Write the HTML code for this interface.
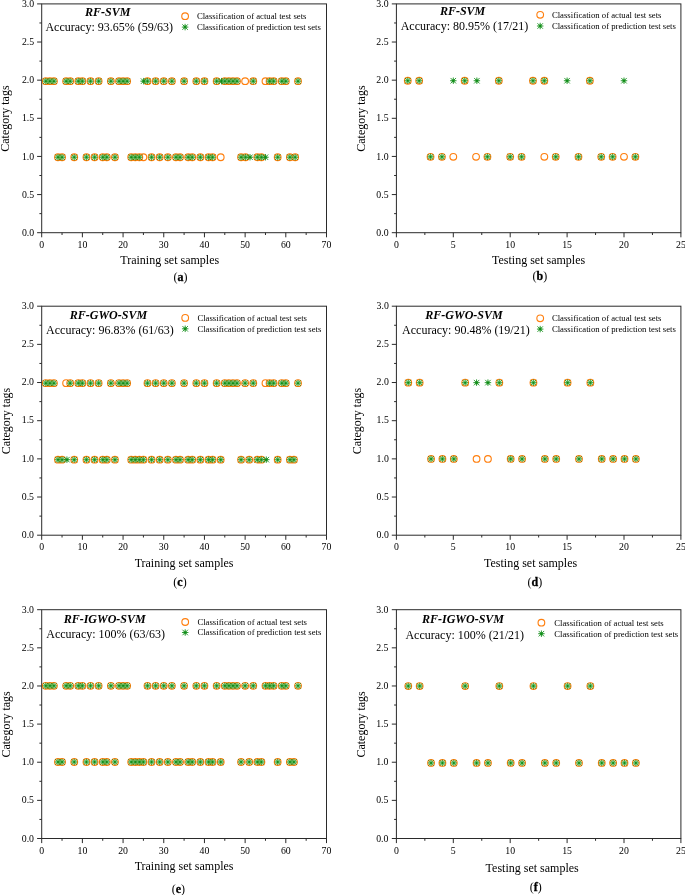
<!DOCTYPE html>
<html><head><meta charset="utf-8"><title>Classification results</title>
<style>
html,body{margin:0;padding:0;background:#fff;}
svg{display:block;will-change:transform;font-variant-ligatures:none;font-family:"Liberation Serif",serif;fill:#000}
.ax{stroke:#2a2a2a;stroke-width:1.0;fill:none;stroke-linecap:butt}
.o{stroke:#ff7f0e;stroke-width:1.12;fill:none}
.g{stroke:#108c18;stroke-width:0.85;fill:none}
.gd{fill:#108c18;stroke:none}
.gh{fill:#5fbd63;fill-opacity:.66;stroke:none}
.tk{font-size:9.8px}
.lb{font-size:12px}
.tt{font-size:12px;font-weight:bold;font-style:italic}
.lg{font-size:8.7px}
.cp{font-size:12px}
</style></head><body>
<svg width="685" height="895" viewBox="0 0 685 895">
<rect width="685" height="895" fill="#fff"/>

<g>
<rect class="ax" x="41.7" y="3.9" width="284.80" height="228.80"/>
<path class="ax" d="M41.70 232.7v4.6M62.04 232.7v2.3M82.39 232.7v4.6M102.73 232.7v2.3M123.07 232.7v4.6M143.41 232.7v2.3M163.76 232.7v4.6M184.10 232.7v2.3M204.44 232.7v4.6M224.79 232.7v2.3M245.13 232.7v4.6M265.47 232.7v2.3M285.81 232.7v4.6M306.16 232.7v2.3M326.50 232.7v4.6M41.7 232.70h-4.6M41.7 213.63h-2.3M41.7 194.57h-4.6M41.7 175.50h-2.3M41.7 156.43h-4.6M41.7 137.37h-2.3M41.7 118.30h-4.6M41.7 99.23h-2.3M41.7 80.17h-4.6M41.7 61.10h-2.3M41.7 42.03h-4.6M41.7 22.97h-2.3M41.7 3.90h-4.6"/>
<g class="tk" text-anchor="middle"><text x="41.70" y="248.2">0</text><text x="82.39" y="248.2">10</text><text x="123.07" y="248.2">20</text><text x="163.76" y="248.2">30</text><text x="204.44" y="248.2">40</text><text x="245.13" y="248.2">50</text><text x="285.81" y="248.2">60</text><text x="326.50" y="248.2">70</text></g>
<g class="tk" text-anchor="end"><text x="34.2" y="235.80">0.0</text><text x="34.2" y="197.67">0.5</text><text x="34.2" y="159.53">1.0</text><text x="34.2" y="121.40">1.5</text><text x="34.2" y="83.27">2.0</text><text x="34.2" y="45.13">2.5</text><text x="34.2" y="7.00">3.0</text></g>
<text class="lb" text-anchor="middle" x="169.75" y="263.5">Training set samples</text>
<text class="lb" text-anchor="middle" transform="translate(8.8 118.60) rotate(-90)">Category tags</text>
<text class="tt" text-anchor="middle" x="107.65" y="15.7">RF-SVM</text>
<text class="lb" text-anchor="middle" x="109.25" y="30.7">Accuracy: 93.65% (59/63)</text>
<text class="cp" text-anchor="middle" x="180.4" y="281.3">(<tspan font-weight="bold" stroke="#000" stroke-width="0.3">a</tspan>)</text>
<g class="o"><circle cx="185.10" cy="16.20" r="3.35"/></g><g class="g"><circle cx="185.10" cy="27.10" r="2.0" class="gh"/><path d="M181.85 27.10H188.35M185.10 23.85V30.35M182.35 24.35L187.85 29.85M182.35 29.85L187.85 24.35"/><circle cx="185.10" cy="27.10" r="1.0" class="gd"/></g>
<text class="lg" x="196.9" y="19.10">Classification of actual test sets</text>
<text class="lg" x="196.9" y="30.00">Classification of prediction test sets</text>
<g class="o"><circle cx="45.77" cy="81.17" r="3.35"/><circle cx="49.84" cy="81.17" r="3.35"/><circle cx="53.91" cy="81.17" r="3.35"/><circle cx="66.11" cy="81.17" r="3.35"/><circle cx="70.18" cy="81.17" r="3.35"/><circle cx="78.32" cy="81.17" r="3.35"/><circle cx="82.39" cy="81.17" r="3.35"/><circle cx="90.52" cy="81.17" r="3.35"/><circle cx="98.66" cy="81.17" r="3.35"/><circle cx="110.87" cy="81.17" r="3.35"/><circle cx="119.00" cy="81.17" r="3.35"/><circle cx="123.07" cy="81.17" r="3.35"/><circle cx="127.14" cy="81.17" r="3.35"/><circle cx="147.48" cy="81.17" r="3.35"/><circle cx="155.62" cy="81.17" r="3.35"/><circle cx="163.76" cy="81.17" r="3.35"/><circle cx="171.89" cy="81.17" r="3.35"/><circle cx="184.10" cy="81.17" r="3.35"/><circle cx="196.31" cy="81.17" r="3.35"/><circle cx="204.44" cy="81.17" r="3.35"/><circle cx="216.65" cy="81.17" r="3.35"/><circle cx="224.79" cy="81.17" r="3.35"/><circle cx="228.85" cy="81.17" r="3.35"/><circle cx="232.92" cy="81.17" r="3.35"/><circle cx="236.99" cy="81.17" r="3.35"/><circle cx="245.13" cy="81.17" r="3.35"/><circle cx="253.27" cy="81.17" r="3.35"/><circle cx="265.47" cy="81.17" r="3.35"/><circle cx="269.54" cy="81.17" r="3.35"/><circle cx="273.61" cy="81.17" r="3.35"/><circle cx="281.75" cy="81.17" r="3.35"/><circle cx="285.81" cy="81.17" r="3.35"/><circle cx="298.02" cy="81.17" r="3.35"/><circle cx="57.97" cy="157.23" r="3.35"/><circle cx="62.04" cy="157.23" r="3.35"/><circle cx="74.25" cy="157.23" r="3.35"/><circle cx="86.45" cy="157.23" r="3.35"/><circle cx="94.59" cy="157.23" r="3.35"/><circle cx="102.73" cy="157.23" r="3.35"/><circle cx="106.80" cy="157.23" r="3.35"/><circle cx="114.93" cy="157.23" r="3.35"/><circle cx="131.21" cy="157.23" r="3.35"/><circle cx="135.28" cy="157.23" r="3.35"/><circle cx="139.35" cy="157.23" r="3.35"/><circle cx="143.41" cy="157.23" r="3.35"/><circle cx="151.55" cy="157.23" r="3.35"/><circle cx="159.69" cy="157.23" r="3.35"/><circle cx="167.83" cy="157.23" r="3.35"/><circle cx="175.96" cy="157.23" r="3.35"/><circle cx="180.03" cy="157.23" r="3.35"/><circle cx="188.17" cy="157.23" r="3.35"/><circle cx="192.24" cy="157.23" r="3.35"/><circle cx="200.37" cy="157.23" r="3.35"/><circle cx="208.51" cy="157.23" r="3.35"/><circle cx="212.58" cy="157.23" r="3.35"/><circle cx="220.72" cy="157.23" r="3.35"/><circle cx="241.06" cy="157.23" r="3.35"/><circle cx="245.54" cy="157.23" r="3.35"/><circle cx="257.33" cy="157.23" r="3.35"/><circle cx="261.40" cy="157.23" r="3.35"/><circle cx="277.68" cy="157.23" r="3.35"/><circle cx="289.88" cy="157.23" r="3.35"/><circle cx="295.17" cy="157.23" r="3.35"/></g>
<g class="g"><path d="M42.52 81.17H49.02M45.77 77.92V84.42M43.02 78.42L48.52 83.92M43.02 83.92L48.52 78.42"/><circle cx="45.77" cy="81.17" r="2.45" class="gh"/><circle cx="45.77" cy="81.17" r="1.0" class="gd"/><path d="M46.59 81.17H53.09M49.84 77.92V84.42M47.09 78.42L52.59 83.92M47.09 83.92L52.59 78.42"/><circle cx="49.84" cy="81.17" r="2.45" class="gh"/><circle cx="49.84" cy="81.17" r="1.0" class="gd"/><path d="M50.66 81.17H57.16M53.91 77.92V84.42M51.16 78.42L56.66 83.92M51.16 83.92L56.66 78.42"/><circle cx="53.91" cy="81.17" r="2.45" class="gh"/><circle cx="53.91" cy="81.17" r="1.0" class="gd"/><path d="M62.86 81.17H69.36M66.11 77.92V84.42M63.36 78.42L68.86 83.92M63.36 83.92L68.86 78.42"/><circle cx="66.11" cy="81.17" r="2.45" class="gh"/><circle cx="66.11" cy="81.17" r="1.0" class="gd"/><path d="M66.93 81.17H73.43M70.18 77.92V84.42M67.43 78.42L72.93 83.92M67.43 83.92L72.93 78.42"/><circle cx="70.18" cy="81.17" r="2.45" class="gh"/><circle cx="70.18" cy="81.17" r="1.0" class="gd"/><path d="M75.07 81.17H81.57M78.32 77.92V84.42M75.57 78.42L81.07 83.92M75.57 83.92L81.07 78.42"/><circle cx="78.32" cy="81.17" r="2.45" class="gh"/><circle cx="78.32" cy="81.17" r="1.0" class="gd"/><path d="M79.14 81.17H85.64M82.39 77.92V84.42M79.64 78.42L85.14 83.92M79.64 83.92L85.14 78.42"/><circle cx="82.39" cy="81.17" r="2.45" class="gh"/><circle cx="82.39" cy="81.17" r="1.0" class="gd"/><path d="M87.27 81.17H93.77M90.52 77.92V84.42M87.77 78.42L93.27 83.92M87.77 83.92L93.27 78.42"/><circle cx="90.52" cy="81.17" r="2.45" class="gh"/><circle cx="90.52" cy="81.17" r="1.0" class="gd"/><path d="M95.41 81.17H101.91M98.66 77.92V84.42M95.91 78.42L101.41 83.92M95.91 83.92L101.41 78.42"/><circle cx="98.66" cy="81.17" r="2.45" class="gh"/><circle cx="98.66" cy="81.17" r="1.0" class="gd"/><path d="M107.62 81.17H114.12M110.87 77.92V84.42M108.12 78.42L113.62 83.92M108.12 83.92L113.62 78.42"/><circle cx="110.87" cy="81.17" r="2.45" class="gh"/><circle cx="110.87" cy="81.17" r="1.0" class="gd"/><path d="M115.75 81.17H122.25M119.00 77.92V84.42M116.25 78.42L121.75 83.92M116.25 83.92L121.75 78.42"/><circle cx="119.00" cy="81.17" r="2.45" class="gh"/><circle cx="119.00" cy="81.17" r="1.0" class="gd"/><path d="M119.82 81.17H126.32M123.07 77.92V84.42M120.32 78.42L125.82 83.92M120.32 83.92L125.82 78.42"/><circle cx="123.07" cy="81.17" r="2.45" class="gh"/><circle cx="123.07" cy="81.17" r="1.0" class="gd"/><path d="M123.89 81.17H130.39M127.14 77.92V84.42M124.39 78.42L129.89 83.92M124.39 83.92L129.89 78.42"/><circle cx="127.14" cy="81.17" r="2.45" class="gh"/><circle cx="127.14" cy="81.17" r="1.0" class="gd"/><circle cx="143.62" cy="81.17" r="2.0" class="gh"/><path d="M140.37 81.17H146.87M143.62 77.92V84.42M140.87 78.42L146.37 83.92M140.87 83.92L146.37 78.42"/><circle cx="143.62" cy="81.17" r="1.0" class="gd"/><path d="M144.23 81.17H150.73M147.48 77.92V84.42M144.73 78.42L150.23 83.92M144.73 83.92L150.23 78.42"/><circle cx="147.48" cy="81.17" r="2.45" class="gh"/><circle cx="147.48" cy="81.17" r="1.0" class="gd"/><path d="M152.37 81.17H158.87M155.62 77.92V84.42M152.87 78.42L158.37 83.92M152.87 83.92L158.37 78.42"/><circle cx="155.62" cy="81.17" r="2.45" class="gh"/><circle cx="155.62" cy="81.17" r="1.0" class="gd"/><path d="M160.51 81.17H167.01M163.76 77.92V84.42M161.01 78.42L166.51 83.92M161.01 83.92L166.51 78.42"/><circle cx="163.76" cy="81.17" r="2.45" class="gh"/><circle cx="163.76" cy="81.17" r="1.0" class="gd"/><path d="M168.64 81.17H175.14M171.89 77.92V84.42M169.14 78.42L174.64 83.92M169.14 83.92L174.64 78.42"/><circle cx="171.89" cy="81.17" r="2.45" class="gh"/><circle cx="171.89" cy="81.17" r="1.0" class="gd"/><path d="M180.85 81.17H187.35M184.10 77.92V84.42M181.35 78.42L186.85 83.92M181.35 83.92L186.85 78.42"/><circle cx="184.10" cy="81.17" r="2.45" class="gh"/><circle cx="184.10" cy="81.17" r="1.0" class="gd"/><path d="M193.06 81.17H199.56M196.31 77.92V84.42M193.56 78.42L199.06 83.92M193.56 83.92L199.06 78.42"/><circle cx="196.31" cy="81.17" r="2.45" class="gh"/><circle cx="196.31" cy="81.17" r="1.0" class="gd"/><path d="M201.19 81.17H207.69M204.44 77.92V84.42M201.69 78.42L207.19 83.92M201.69 83.92L207.19 78.42"/><circle cx="204.44" cy="81.17" r="2.45" class="gh"/><circle cx="204.44" cy="81.17" r="1.0" class="gd"/><path d="M213.40 81.17H219.90M216.65 77.92V84.42M213.90 78.42L219.40 83.92M213.90 83.92L219.40 78.42"/><circle cx="216.65" cy="81.17" r="2.45" class="gh"/><circle cx="216.65" cy="81.17" r="1.0" class="gd"/><circle cx="221.53" cy="81.17" r="2.0" class="gh"/><path d="M218.28 81.17H224.78M221.53 77.92V84.42M218.78 78.42L224.28 83.92M218.78 83.92L224.28 78.42"/><circle cx="221.53" cy="81.17" r="1.0" class="gd"/><path d="M221.54 81.17H228.04M224.79 77.92V84.42M222.04 78.42L227.54 83.92M222.04 83.92L227.54 78.42"/><circle cx="224.79" cy="81.17" r="2.45" class="gh"/><circle cx="224.79" cy="81.17" r="1.0" class="gd"/><path d="M225.60 81.17H232.10M228.85 77.92V84.42M226.10 78.42L231.60 83.92M226.10 83.92L231.60 78.42"/><circle cx="228.85" cy="81.17" r="2.45" class="gh"/><circle cx="228.85" cy="81.17" r="1.0" class="gd"/><path d="M229.67 81.17H236.17M232.92 77.92V84.42M230.17 78.42L235.67 83.92M230.17 83.92L235.67 78.42"/><circle cx="232.92" cy="81.17" r="2.45" class="gh"/><circle cx="232.92" cy="81.17" r="1.0" class="gd"/><path d="M233.74 81.17H240.24M236.99 77.92V84.42M234.24 78.42L239.74 83.92M234.24 83.92L239.74 78.42"/><circle cx="236.99" cy="81.17" r="2.45" class="gh"/><circle cx="236.99" cy="81.17" r="1.0" class="gd"/><path d="M250.02 81.17H256.52M253.27 77.92V84.42M250.52 78.42L256.02 83.92M250.52 83.92L256.02 78.42"/><circle cx="253.27" cy="81.17" r="2.45" class="gh"/><circle cx="253.27" cy="81.17" r="1.0" class="gd"/><path d="M266.29 81.17H272.79M269.54 77.92V84.42M266.79 78.42L272.29 83.92M266.79 83.92L272.29 78.42"/><circle cx="269.54" cy="81.17" r="2.45" class="gh"/><circle cx="269.54" cy="81.17" r="1.0" class="gd"/><path d="M270.36 81.17H276.86M273.61 77.92V84.42M270.86 78.42L276.36 83.92M270.86 83.92L276.36 78.42"/><circle cx="273.61" cy="81.17" r="2.45" class="gh"/><circle cx="273.61" cy="81.17" r="1.0" class="gd"/><path d="M278.50 81.17H285.00M281.75 77.92V84.42M279.00 78.42L284.50 83.92M279.00 83.92L284.50 78.42"/><circle cx="281.75" cy="81.17" r="2.45" class="gh"/><circle cx="281.75" cy="81.17" r="1.0" class="gd"/><path d="M282.56 81.17H289.06M285.81 77.92V84.42M283.06 78.42L288.56 83.92M283.06 83.92L288.56 78.42"/><circle cx="285.81" cy="81.17" r="2.45" class="gh"/><circle cx="285.81" cy="81.17" r="1.0" class="gd"/><path d="M294.77 81.17H301.27M298.02 77.92V84.42M295.27 78.42L300.77 83.92M295.27 83.92L300.77 78.42"/><circle cx="298.02" cy="81.17" r="2.45" class="gh"/><circle cx="298.02" cy="81.17" r="1.0" class="gd"/><path d="M54.72 157.23H61.22M57.97 153.98V160.48M55.22 154.48L60.72 159.98M55.22 159.98L60.72 154.48"/><circle cx="57.97" cy="157.23" r="2.45" class="gh"/><circle cx="57.97" cy="157.23" r="1.0" class="gd"/><path d="M58.79 157.23H65.29M62.04 153.98V160.48M59.29 154.48L64.79 159.98M59.29 159.98L64.79 154.48"/><circle cx="62.04" cy="157.23" r="2.45" class="gh"/><circle cx="62.04" cy="157.23" r="1.0" class="gd"/><path d="M71.00 157.23H77.50M74.25 153.98V160.48M71.50 154.48L77.00 159.98M71.50 159.98L77.00 154.48"/><circle cx="74.25" cy="157.23" r="2.45" class="gh"/><circle cx="74.25" cy="157.23" r="1.0" class="gd"/><path d="M83.20 157.23H89.70M86.45 153.98V160.48M83.70 154.48L89.20 159.98M83.70 159.98L89.20 154.48"/><circle cx="86.45" cy="157.23" r="2.45" class="gh"/><circle cx="86.45" cy="157.23" r="1.0" class="gd"/><path d="M91.34 157.23H97.84M94.59 153.98V160.48M91.84 154.48L97.34 159.98M91.84 159.98L97.34 154.48"/><circle cx="94.59" cy="157.23" r="2.45" class="gh"/><circle cx="94.59" cy="157.23" r="1.0" class="gd"/><path d="M99.48 157.23H105.98M102.73 153.98V160.48M99.98 154.48L105.48 159.98M99.98 159.98L105.48 154.48"/><circle cx="102.73" cy="157.23" r="2.45" class="gh"/><circle cx="102.73" cy="157.23" r="1.0" class="gd"/><path d="M103.55 157.23H110.05M106.80 153.98V160.48M104.05 154.48L109.55 159.98M104.05 159.98L109.55 154.48"/><circle cx="106.80" cy="157.23" r="2.45" class="gh"/><circle cx="106.80" cy="157.23" r="1.0" class="gd"/><path d="M111.68 157.23H118.18M114.93 153.98V160.48M112.18 154.48L117.68 159.98M112.18 159.98L117.68 154.48"/><circle cx="114.93" cy="157.23" r="2.45" class="gh"/><circle cx="114.93" cy="157.23" r="1.0" class="gd"/><path d="M127.96 157.23H134.46M131.21 153.98V160.48M128.46 154.48L133.96 159.98M128.46 159.98L133.96 154.48"/><circle cx="131.21" cy="157.23" r="2.45" class="gh"/><circle cx="131.21" cy="157.23" r="1.0" class="gd"/><path d="M132.03 157.23H138.53M135.28 153.98V160.48M132.53 154.48L138.03 159.98M132.53 159.98L138.03 154.48"/><circle cx="135.28" cy="157.23" r="2.45" class="gh"/><circle cx="135.28" cy="157.23" r="1.0" class="gd"/><path d="M136.10 157.23H142.60M139.35 153.98V160.48M136.60 154.48L142.10 159.98M136.60 159.98L142.10 154.48"/><circle cx="139.35" cy="157.23" r="2.45" class="gh"/><circle cx="139.35" cy="157.23" r="1.0" class="gd"/><path d="M148.30 157.23H154.80M151.55 153.98V160.48M148.80 154.48L154.30 159.98M148.80 159.98L154.30 154.48"/><circle cx="151.55" cy="157.23" r="2.45" class="gh"/><circle cx="151.55" cy="157.23" r="1.0" class="gd"/><path d="M156.44 157.23H162.94M159.69 153.98V160.48M156.94 154.48L162.44 159.98M156.94 159.98L162.44 154.48"/><circle cx="159.69" cy="157.23" r="2.45" class="gh"/><circle cx="159.69" cy="157.23" r="1.0" class="gd"/><path d="M164.58 157.23H171.08M167.83 153.98V160.48M165.08 154.48L170.58 159.98M165.08 159.98L170.58 154.48"/><circle cx="167.83" cy="157.23" r="2.45" class="gh"/><circle cx="167.83" cy="157.23" r="1.0" class="gd"/><path d="M172.71 157.23H179.21M175.96 153.98V160.48M173.21 154.48L178.71 159.98M173.21 159.98L178.71 154.48"/><circle cx="175.96" cy="157.23" r="2.45" class="gh"/><circle cx="175.96" cy="157.23" r="1.0" class="gd"/><path d="M176.78 157.23H183.28M180.03 153.98V160.48M177.28 154.48L182.78 159.98M177.28 159.98L182.78 154.48"/><circle cx="180.03" cy="157.23" r="2.45" class="gh"/><circle cx="180.03" cy="157.23" r="1.0" class="gd"/><path d="M184.92 157.23H191.42M188.17 153.98V160.48M185.42 154.48L190.92 159.98M185.42 159.98L190.92 154.48"/><circle cx="188.17" cy="157.23" r="2.45" class="gh"/><circle cx="188.17" cy="157.23" r="1.0" class="gd"/><path d="M188.99 157.23H195.49M192.24 153.98V160.48M189.49 154.48L194.99 159.98M189.49 159.98L194.99 154.48"/><circle cx="192.24" cy="157.23" r="2.45" class="gh"/><circle cx="192.24" cy="157.23" r="1.0" class="gd"/><path d="M197.12 157.23H203.62M200.37 153.98V160.48M197.62 154.48L203.12 159.98M197.62 159.98L203.12 154.48"/><circle cx="200.37" cy="157.23" r="2.45" class="gh"/><circle cx="200.37" cy="157.23" r="1.0" class="gd"/><path d="M205.26 157.23H211.76M208.51 153.98V160.48M205.76 154.48L211.26 159.98M205.76 159.98L211.26 154.48"/><circle cx="208.51" cy="157.23" r="2.45" class="gh"/><circle cx="208.51" cy="157.23" r="1.0" class="gd"/><path d="M209.33 157.23H215.83M212.58 153.98V160.48M209.83 154.48L215.33 159.98M209.83 159.98L215.33 154.48"/><circle cx="212.58" cy="157.23" r="2.45" class="gh"/><circle cx="212.58" cy="157.23" r="1.0" class="gd"/><path d="M237.81 157.23H244.31M241.06 153.98V160.48M238.31 154.48L243.81 159.98M238.31 159.98L243.81 154.48"/><circle cx="241.06" cy="157.23" r="2.45" class="gh"/><circle cx="241.06" cy="157.23" r="1.0" class="gd"/><path d="M242.29 157.23H248.79M245.54 153.98V160.48M242.79 154.48L248.29 159.98M242.79 159.98L248.29 154.48"/><circle cx="245.54" cy="157.23" r="2.45" class="gh"/><circle cx="245.54" cy="157.23" r="1.0" class="gd"/><circle cx="250.01" cy="157.23" r="2.0" class="gh"/><path d="M246.76 157.23H253.26M250.01 153.98V160.48M247.26 154.48L252.76 159.98M247.26 159.98L252.76 154.48"/><circle cx="250.01" cy="157.23" r="1.0" class="gd"/><path d="M254.08 157.23H260.58M257.33 153.98V160.48M254.58 154.48L260.08 159.98M254.58 159.98L260.08 154.48"/><circle cx="257.33" cy="157.23" r="2.45" class="gh"/><circle cx="257.33" cy="157.23" r="1.0" class="gd"/><path d="M258.15 157.23H264.65M261.40 153.98V160.48M258.65 154.48L264.15 159.98M258.65 159.98L264.15 154.48"/><circle cx="261.40" cy="157.23" r="2.45" class="gh"/><circle cx="261.40" cy="157.23" r="1.0" class="gd"/><circle cx="265.47" cy="157.23" r="2.0" class="gh"/><path d="M262.22 157.23H268.72M265.47 153.98V160.48M262.72 154.48L268.22 159.98M262.72 159.98L268.22 154.48"/><circle cx="265.47" cy="157.23" r="1.0" class="gd"/><path d="M274.43 157.23H280.93M277.68 153.98V160.48M274.93 154.48L280.43 159.98M274.93 159.98L280.43 154.48"/><circle cx="277.68" cy="157.23" r="2.45" class="gh"/><circle cx="277.68" cy="157.23" r="1.0" class="gd"/><path d="M286.63 157.23H293.13M289.88 153.98V160.48M287.13 154.48L292.63 159.98M287.13 159.98L292.63 154.48"/><circle cx="289.88" cy="157.23" r="2.45" class="gh"/><circle cx="289.88" cy="157.23" r="1.0" class="gd"/><path d="M291.92 157.23H298.42M295.17 153.98V160.48M292.42 154.48L297.92 159.98M292.42 159.98L297.92 154.48"/><circle cx="295.17" cy="157.23" r="2.45" class="gh"/><circle cx="295.17" cy="157.23" r="1.0" class="gd"/></g>
</g>

<g>
<rect class="ax" x="396.4" y="3.9" width="284.50" height="228.80"/>
<path class="ax" d="M396.40 232.7v4.6M424.85 232.7v2.3M453.30 232.7v4.6M481.75 232.7v2.3M510.20 232.7v4.6M538.65 232.7v2.3M567.10 232.7v4.6M595.55 232.7v2.3M624.00 232.7v4.6M652.45 232.7v2.3M680.90 232.7v4.6M396.4 232.70h-4.6M396.4 213.63h-2.3M396.4 194.57h-4.6M396.4 175.50h-2.3M396.4 156.43h-4.6M396.4 137.37h-2.3M396.4 118.30h-4.6M396.4 99.23h-2.3M396.4 80.17h-4.6M396.4 61.10h-2.3M396.4 42.03h-4.6M396.4 22.97h-2.3M396.4 3.90h-4.6"/>
<g class="tk" text-anchor="middle"><text x="396.40" y="248.1">0</text><text x="453.30" y="248.1">5</text><text x="510.20" y="248.1">10</text><text x="567.10" y="248.1">15</text><text x="624.00" y="248.1">20</text><text x="680.90" y="248.1">25</text></g>
<g class="tk" text-anchor="end"><text x="388.6" y="235.80">0.0</text><text x="388.6" y="197.67">0.5</text><text x="388.6" y="159.53">1.0</text><text x="388.6" y="121.40">1.5</text><text x="388.6" y="83.27">2.0</text><text x="388.6" y="45.13">2.5</text><text x="388.6" y="7.00">3.0</text></g>
<text class="lb" text-anchor="middle" x="538.6" y="263.9">Testing set samples</text>
<text class="lb" text-anchor="middle" transform="translate(364.5 118.60) rotate(-90)">Category tags</text>
<text class="tt" text-anchor="middle" x="462.6" y="14.7">RF-SVM</text>
<text class="lb" text-anchor="middle" x="464.5" y="29.6">Accuracy: 80.95% (17/21)</text>
<text class="cp" text-anchor="middle" x="539.9" y="280.3">(<tspan font-weight="bold" stroke="#000" stroke-width="0.3">b</tspan>)</text>
<g class="o"><circle cx="540.20" cy="14.80" r="3.35"/></g><g class="g"><circle cx="540.20" cy="26.00" r="2.0" class="gh"/><path d="M536.95 26.00H543.45M540.20 22.75V29.25M537.45 23.25L542.95 28.75M537.45 28.75L542.95 23.25"/><circle cx="540.20" cy="26.00" r="1.0" class="gd"/></g>
<text class="lg" x="551.9" y="17.70">Classification of actual test sets</text>
<text class="lg" x="551.9" y="28.90">Classification of prediction test sets</text>
<g class="o"><circle cx="407.78" cy="80.72" r="3.35"/><circle cx="419.16" cy="80.72" r="3.35"/><circle cx="464.68" cy="80.72" r="3.35"/><circle cx="498.82" cy="80.72" r="3.35"/><circle cx="532.96" cy="80.72" r="3.35"/><circle cx="544.34" cy="80.72" r="3.35"/><circle cx="589.86" cy="80.72" r="3.35"/><circle cx="430.54" cy="156.83" r="3.35"/><circle cx="441.92" cy="156.83" r="3.35"/><circle cx="453.30" cy="156.83" r="3.35"/><circle cx="476.06" cy="156.83" r="3.35"/><circle cx="487.44" cy="156.83" r="3.35"/><circle cx="510.20" cy="156.83" r="3.35"/><circle cx="521.58" cy="156.83" r="3.35"/><circle cx="544.34" cy="156.83" r="3.35"/><circle cx="555.72" cy="156.83" r="3.35"/><circle cx="578.48" cy="156.83" r="3.35"/><circle cx="601.24" cy="156.83" r="3.35"/><circle cx="612.62" cy="156.83" r="3.35"/><circle cx="624.00" cy="156.83" r="3.35"/><circle cx="635.38" cy="156.83" r="3.35"/></g>
<g class="g"><path d="M404.53 80.72H411.03M407.78 77.47V83.97M405.03 77.97L410.53 83.47M405.03 83.47L410.53 77.97"/><circle cx="407.78" cy="80.72" r="2.45" class="gh"/><circle cx="407.78" cy="80.72" r="1.0" class="gd"/><path d="M415.91 80.72H422.41M419.16 77.47V83.97M416.41 77.97L421.91 83.47M416.41 83.47L421.91 77.97"/><circle cx="419.16" cy="80.72" r="2.45" class="gh"/><circle cx="419.16" cy="80.72" r="1.0" class="gd"/><circle cx="453.30" cy="80.72" r="2.0" class="gh"/><path d="M450.05 80.72H456.55M453.30 77.47V83.97M450.55 77.97L456.05 83.47M450.55 83.47L456.05 77.97"/><circle cx="453.30" cy="80.72" r="1.0" class="gd"/><path d="M461.43 80.72H467.93M464.68 77.47V83.97M461.93 77.97L467.43 83.47M461.93 83.47L467.43 77.97"/><circle cx="464.68" cy="80.72" r="2.45" class="gh"/><circle cx="464.68" cy="80.72" r="1.0" class="gd"/><circle cx="476.86" cy="80.72" r="2.0" class="gh"/><path d="M473.61 80.72H480.11M476.86 77.47V83.97M474.11 77.97L479.61 83.47M474.11 83.47L479.61 77.97"/><circle cx="476.86" cy="80.72" r="1.0" class="gd"/><path d="M495.57 80.72H502.07M498.82 77.47V83.97M496.07 77.97L501.57 83.47M496.07 83.47L501.57 77.97"/><circle cx="498.82" cy="80.72" r="2.45" class="gh"/><circle cx="498.82" cy="80.72" r="1.0" class="gd"/><path d="M529.71 80.72H536.21M532.96 77.47V83.97M530.21 77.97L535.71 83.47M530.21 83.47L535.71 77.97"/><circle cx="532.96" cy="80.72" r="2.45" class="gh"/><circle cx="532.96" cy="80.72" r="1.0" class="gd"/><path d="M541.09 80.72H547.59M544.34 77.47V83.97M541.59 77.97L547.09 83.47M541.59 83.47L547.09 77.97"/><circle cx="544.34" cy="80.72" r="2.45" class="gh"/><circle cx="544.34" cy="80.72" r="1.0" class="gd"/><circle cx="567.10" cy="80.72" r="2.0" class="gh"/><path d="M563.85 80.72H570.35M567.10 77.47V83.97M564.35 77.97L569.85 83.47M564.35 83.47L569.85 77.97"/><circle cx="567.10" cy="80.72" r="1.0" class="gd"/><path d="M586.61 80.72H593.11M589.86 77.47V83.97M587.11 77.97L592.61 83.47M587.11 83.47L592.61 77.97"/><circle cx="589.86" cy="80.72" r="2.45" class="gh"/><circle cx="589.86" cy="80.72" r="1.0" class="gd"/><circle cx="624.00" cy="80.72" r="2.0" class="gh"/><path d="M620.75 80.72H627.25M624.00 77.47V83.97M621.25 77.97L626.75 83.47M621.25 83.47L626.75 77.97"/><circle cx="624.00" cy="80.72" r="1.0" class="gd"/><path d="M427.29 156.83H433.79M430.54 153.58V160.08M427.79 154.08L433.29 159.58M427.79 159.58L433.29 154.08"/><circle cx="430.54" cy="156.83" r="2.45" class="gh"/><circle cx="430.54" cy="156.83" r="1.0" class="gd"/><path d="M438.67 156.83H445.17M441.92 153.58V160.08M439.17 154.08L444.67 159.58M439.17 159.58L444.67 154.08"/><circle cx="441.92" cy="156.83" r="2.45" class="gh"/><circle cx="441.92" cy="156.83" r="1.0" class="gd"/><path d="M484.19 156.83H490.69M487.44 153.58V160.08M484.69 154.08L490.19 159.58M484.69 159.58L490.19 154.08"/><circle cx="487.44" cy="156.83" r="2.45" class="gh"/><circle cx="487.44" cy="156.83" r="1.0" class="gd"/><path d="M506.95 156.83H513.45M510.20 153.58V160.08M507.45 154.08L512.95 159.58M507.45 159.58L512.95 154.08"/><circle cx="510.20" cy="156.83" r="2.45" class="gh"/><circle cx="510.20" cy="156.83" r="1.0" class="gd"/><path d="M518.33 156.83H524.83M521.58 153.58V160.08M518.83 154.08L524.33 159.58M518.83 159.58L524.33 154.08"/><circle cx="521.58" cy="156.83" r="2.45" class="gh"/><circle cx="521.58" cy="156.83" r="1.0" class="gd"/><path d="M552.47 156.83H558.97M555.72 153.58V160.08M552.97 154.08L558.47 159.58M552.97 159.58L558.47 154.08"/><circle cx="555.72" cy="156.83" r="2.45" class="gh"/><circle cx="555.72" cy="156.83" r="1.0" class="gd"/><path d="M575.23 156.83H581.73M578.48 153.58V160.08M575.73 154.08L581.23 159.58M575.73 159.58L581.23 154.08"/><circle cx="578.48" cy="156.83" r="2.45" class="gh"/><circle cx="578.48" cy="156.83" r="1.0" class="gd"/><path d="M597.99 156.83H604.49M601.24 153.58V160.08M598.49 154.08L603.99 159.58M598.49 159.58L603.99 154.08"/><circle cx="601.24" cy="156.83" r="2.45" class="gh"/><circle cx="601.24" cy="156.83" r="1.0" class="gd"/><path d="M609.37 156.83H615.87M612.62 153.58V160.08M609.87 154.08L615.37 159.58M609.87 159.58L615.37 154.08"/><circle cx="612.62" cy="156.83" r="2.45" class="gh"/><circle cx="612.62" cy="156.83" r="1.0" class="gd"/><path d="M632.13 156.83H638.63M635.38 153.58V160.08M632.63 154.08L638.13 159.58M632.63 159.58L638.13 154.08"/><circle cx="635.38" cy="156.83" r="2.45" class="gh"/><circle cx="635.38" cy="156.83" r="1.0" class="gd"/></g>
</g>

<g>
<rect class="ax" x="41.7" y="306.2" width="284.80" height="229.00"/>
<path class="ax" d="M41.70 535.2v4.6M62.04 535.2v2.3M82.39 535.2v4.6M102.73 535.2v2.3M123.07 535.2v4.6M143.41 535.2v2.3M163.76 535.2v4.6M184.10 535.2v2.3M204.44 535.2v4.6M224.79 535.2v2.3M245.13 535.2v4.6M265.47 535.2v2.3M285.81 535.2v4.6M306.16 535.2v2.3M326.50 535.2v4.6M41.7 535.20h-4.6M41.7 516.12h-2.3M41.7 497.03h-4.6M41.7 477.95h-2.3M41.7 458.87h-4.6M41.7 439.78h-2.3M41.7 420.70h-4.6M41.7 401.62h-2.3M41.7 382.53h-4.6M41.7 363.45h-2.3M41.7 344.37h-4.6M41.7 325.28h-2.3M41.7 306.20h-4.6"/>
<g class="tk" text-anchor="middle"><text x="41.70" y="550.0">0</text><text x="82.39" y="550.0">10</text><text x="123.07" y="550.0">20</text><text x="163.76" y="550.0">30</text><text x="204.44" y="550.0">40</text><text x="245.13" y="550.0">50</text><text x="285.81" y="550.0">60</text><text x="326.50" y="550.0">70</text></g>
<g class="tk" text-anchor="end"><text x="34.0" y="537.90">0.0</text><text x="34.0" y="499.73">0.5</text><text x="34.0" y="461.57">1.0</text><text x="34.0" y="423.40">1.5</text><text x="34.0" y="385.23">2.0</text><text x="34.0" y="347.07">2.5</text><text x="34.0" y="308.90">3.0</text></g>
<text class="lb" text-anchor="middle" x="184.1" y="566.9">Training set samples</text>
<text class="lb" text-anchor="middle" transform="translate(10.1 421.00) rotate(-90)">Category tags</text>
<text class="tt" text-anchor="middle" x="108.4" y="318.8">RF-GWO-SVM</text>
<text class="lb" text-anchor="middle" x="109.9" y="334.1">Accuracy: 96.83% (61/63)</text>
<text class="cp" text-anchor="middle" x="180.0" y="586.1">(<tspan font-weight="bold" stroke="#000" stroke-width="0.3">c</tspan>)</text>
<g class="o"><circle cx="185.20" cy="317.90" r="3.35"/></g><g class="g"><circle cx="185.20" cy="328.80" r="2.0" class="gh"/><path d="M181.95 328.80H188.45M185.20 325.55V332.05M182.45 326.05L187.95 331.55M182.45 331.55L187.95 326.05"/><circle cx="185.20" cy="328.80" r="1.0" class="gd"/></g>
<text class="lg" x="197.4" y="320.80">Classification of actual test sets</text>
<text class="lg" x="197.4" y="331.70">Classification of prediction test sets</text>
<g class="o"><circle cx="45.77" cy="383.13" r="3.35"/><circle cx="49.84" cy="383.13" r="3.35"/><circle cx="53.91" cy="383.13" r="3.35"/><circle cx="66.11" cy="383.13" r="3.35"/><circle cx="70.18" cy="383.13" r="3.35"/><circle cx="78.32" cy="383.13" r="3.35"/><circle cx="82.39" cy="383.13" r="3.35"/><circle cx="90.52" cy="383.13" r="3.35"/><circle cx="98.66" cy="383.13" r="3.35"/><circle cx="110.87" cy="383.13" r="3.35"/><circle cx="119.00" cy="383.13" r="3.35"/><circle cx="123.07" cy="383.13" r="3.35"/><circle cx="127.14" cy="383.13" r="3.35"/><circle cx="147.48" cy="383.13" r="3.35"/><circle cx="155.62" cy="383.13" r="3.35"/><circle cx="163.76" cy="383.13" r="3.35"/><circle cx="171.89" cy="383.13" r="3.35"/><circle cx="184.10" cy="383.13" r="3.35"/><circle cx="196.31" cy="383.13" r="3.35"/><circle cx="204.44" cy="383.13" r="3.35"/><circle cx="216.65" cy="383.13" r="3.35"/><circle cx="224.79" cy="383.13" r="3.35"/><circle cx="228.85" cy="383.13" r="3.35"/><circle cx="232.92" cy="383.13" r="3.35"/><circle cx="236.99" cy="383.13" r="3.35"/><circle cx="245.13" cy="383.13" r="3.35"/><circle cx="253.27" cy="383.13" r="3.35"/><circle cx="265.47" cy="383.13" r="3.35"/><circle cx="269.54" cy="383.13" r="3.35"/><circle cx="273.61" cy="383.13" r="3.35"/><circle cx="281.75" cy="383.13" r="3.35"/><circle cx="285.81" cy="383.13" r="3.35"/><circle cx="298.02" cy="383.13" r="3.35"/><circle cx="57.97" cy="459.67" r="3.35"/><circle cx="62.04" cy="459.67" r="3.35"/><circle cx="74.25" cy="459.67" r="3.35"/><circle cx="86.45" cy="459.67" r="3.35"/><circle cx="94.59" cy="459.67" r="3.35"/><circle cx="102.73" cy="459.67" r="3.35"/><circle cx="106.80" cy="459.67" r="3.35"/><circle cx="114.93" cy="459.67" r="3.35"/><circle cx="131.21" cy="459.67" r="3.35"/><circle cx="135.28" cy="459.67" r="3.35"/><circle cx="139.35" cy="459.67" r="3.35"/><circle cx="143.41" cy="459.67" r="3.35"/><circle cx="151.55" cy="459.67" r="3.35"/><circle cx="159.69" cy="459.67" r="3.35"/><circle cx="167.83" cy="459.67" r="3.35"/><circle cx="175.96" cy="459.67" r="3.35"/><circle cx="180.03" cy="459.67" r="3.35"/><circle cx="188.17" cy="459.67" r="3.35"/><circle cx="192.24" cy="459.67" r="3.35"/><circle cx="200.37" cy="459.67" r="3.35"/><circle cx="208.51" cy="459.67" r="3.35"/><circle cx="212.58" cy="459.67" r="3.35"/><circle cx="220.72" cy="459.67" r="3.35"/><circle cx="241.06" cy="459.67" r="3.35"/><circle cx="249.20" cy="459.67" r="3.35"/><circle cx="257.33" cy="459.67" r="3.35"/><circle cx="261.40" cy="459.67" r="3.35"/><circle cx="277.68" cy="459.67" r="3.35"/><circle cx="289.88" cy="459.67" r="3.35"/><circle cx="293.95" cy="459.67" r="3.35"/></g>
<g class="g"><path d="M42.52 383.13H49.02M45.77 379.88V386.38M43.02 380.38L48.52 385.88M43.02 385.88L48.52 380.38"/><circle cx="45.77" cy="383.13" r="2.45" class="gh"/><circle cx="45.77" cy="383.13" r="1.0" class="gd"/><path d="M46.59 383.13H53.09M49.84 379.88V386.38M47.09 380.38L52.59 385.88M47.09 385.88L52.59 380.38"/><circle cx="49.84" cy="383.13" r="2.45" class="gh"/><circle cx="49.84" cy="383.13" r="1.0" class="gd"/><path d="M50.66 383.13H57.16M53.91 379.88V386.38M51.16 380.38L56.66 385.88M51.16 385.88L56.66 380.38"/><circle cx="53.91" cy="383.13" r="2.45" class="gh"/><circle cx="53.91" cy="383.13" r="1.0" class="gd"/><path d="M66.93 383.13H73.43M70.18 379.88V386.38M67.43 380.38L72.93 385.88M67.43 385.88L72.93 380.38"/><circle cx="70.18" cy="383.13" r="2.45" class="gh"/><circle cx="70.18" cy="383.13" r="1.0" class="gd"/><path d="M75.07 383.13H81.57M78.32 379.88V386.38M75.57 380.38L81.07 385.88M75.57 385.88L81.07 380.38"/><circle cx="78.32" cy="383.13" r="2.45" class="gh"/><circle cx="78.32" cy="383.13" r="1.0" class="gd"/><path d="M79.14 383.13H85.64M82.39 379.88V386.38M79.64 380.38L85.14 385.88M79.64 385.88L85.14 380.38"/><circle cx="82.39" cy="383.13" r="2.45" class="gh"/><circle cx="82.39" cy="383.13" r="1.0" class="gd"/><path d="M87.27 383.13H93.77M90.52 379.88V386.38M87.77 380.38L93.27 385.88M87.77 385.88L93.27 380.38"/><circle cx="90.52" cy="383.13" r="2.45" class="gh"/><circle cx="90.52" cy="383.13" r="1.0" class="gd"/><path d="M95.41 383.13H101.91M98.66 379.88V386.38M95.91 380.38L101.41 385.88M95.91 385.88L101.41 380.38"/><circle cx="98.66" cy="383.13" r="2.45" class="gh"/><circle cx="98.66" cy="383.13" r="1.0" class="gd"/><path d="M107.62 383.13H114.12M110.87 379.88V386.38M108.12 380.38L113.62 385.88M108.12 385.88L113.62 380.38"/><circle cx="110.87" cy="383.13" r="2.45" class="gh"/><circle cx="110.87" cy="383.13" r="1.0" class="gd"/><path d="M115.75 383.13H122.25M119.00 379.88V386.38M116.25 380.38L121.75 385.88M116.25 385.88L121.75 380.38"/><circle cx="119.00" cy="383.13" r="2.45" class="gh"/><circle cx="119.00" cy="383.13" r="1.0" class="gd"/><path d="M119.82 383.13H126.32M123.07 379.88V386.38M120.32 380.38L125.82 385.88M120.32 385.88L125.82 380.38"/><circle cx="123.07" cy="383.13" r="2.45" class="gh"/><circle cx="123.07" cy="383.13" r="1.0" class="gd"/><path d="M123.89 383.13H130.39M127.14 379.88V386.38M124.39 380.38L129.89 385.88M124.39 385.88L129.89 380.38"/><circle cx="127.14" cy="383.13" r="2.45" class="gh"/><circle cx="127.14" cy="383.13" r="1.0" class="gd"/><path d="M144.23 383.13H150.73M147.48 379.88V386.38M144.73 380.38L150.23 385.88M144.73 385.88L150.23 380.38"/><circle cx="147.48" cy="383.13" r="2.45" class="gh"/><circle cx="147.48" cy="383.13" r="1.0" class="gd"/><path d="M152.37 383.13H158.87M155.62 379.88V386.38M152.87 380.38L158.37 385.88M152.87 385.88L158.37 380.38"/><circle cx="155.62" cy="383.13" r="2.45" class="gh"/><circle cx="155.62" cy="383.13" r="1.0" class="gd"/><path d="M160.51 383.13H167.01M163.76 379.88V386.38M161.01 380.38L166.51 385.88M161.01 385.88L166.51 380.38"/><circle cx="163.76" cy="383.13" r="2.45" class="gh"/><circle cx="163.76" cy="383.13" r="1.0" class="gd"/><path d="M168.64 383.13H175.14M171.89 379.88V386.38M169.14 380.38L174.64 385.88M169.14 385.88L174.64 380.38"/><circle cx="171.89" cy="383.13" r="2.45" class="gh"/><circle cx="171.89" cy="383.13" r="1.0" class="gd"/><path d="M180.85 383.13H187.35M184.10 379.88V386.38M181.35 380.38L186.85 385.88M181.35 385.88L186.85 380.38"/><circle cx="184.10" cy="383.13" r="2.45" class="gh"/><circle cx="184.10" cy="383.13" r="1.0" class="gd"/><path d="M193.06 383.13H199.56M196.31 379.88V386.38M193.56 380.38L199.06 385.88M193.56 385.88L199.06 380.38"/><circle cx="196.31" cy="383.13" r="2.45" class="gh"/><circle cx="196.31" cy="383.13" r="1.0" class="gd"/><path d="M201.19 383.13H207.69M204.44 379.88V386.38M201.69 380.38L207.19 385.88M201.69 385.88L207.19 380.38"/><circle cx="204.44" cy="383.13" r="2.45" class="gh"/><circle cx="204.44" cy="383.13" r="1.0" class="gd"/><path d="M213.40 383.13H219.90M216.65 379.88V386.38M213.90 380.38L219.40 385.88M213.90 385.88L219.40 380.38"/><circle cx="216.65" cy="383.13" r="2.45" class="gh"/><circle cx="216.65" cy="383.13" r="1.0" class="gd"/><path d="M221.54 383.13H228.04M224.79 379.88V386.38M222.04 380.38L227.54 385.88M222.04 385.88L227.54 380.38"/><circle cx="224.79" cy="383.13" r="2.45" class="gh"/><circle cx="224.79" cy="383.13" r="1.0" class="gd"/><path d="M225.60 383.13H232.10M228.85 379.88V386.38M226.10 380.38L231.60 385.88M226.10 385.88L231.60 380.38"/><circle cx="228.85" cy="383.13" r="2.45" class="gh"/><circle cx="228.85" cy="383.13" r="1.0" class="gd"/><path d="M229.67 383.13H236.17M232.92 379.88V386.38M230.17 380.38L235.67 385.88M230.17 385.88L235.67 380.38"/><circle cx="232.92" cy="383.13" r="2.45" class="gh"/><circle cx="232.92" cy="383.13" r="1.0" class="gd"/><path d="M233.74 383.13H240.24M236.99 379.88V386.38M234.24 380.38L239.74 385.88M234.24 385.88L239.74 380.38"/><circle cx="236.99" cy="383.13" r="2.45" class="gh"/><circle cx="236.99" cy="383.13" r="1.0" class="gd"/><path d="M241.88 383.13H248.38M245.13 379.88V386.38M242.38 380.38L247.88 385.88M242.38 385.88L247.88 380.38"/><circle cx="245.13" cy="383.13" r="2.45" class="gh"/><circle cx="245.13" cy="383.13" r="1.0" class="gd"/><path d="M250.02 383.13H256.52M253.27 379.88V386.38M250.52 380.38L256.02 385.88M250.52 385.88L256.02 380.38"/><circle cx="253.27" cy="383.13" r="2.45" class="gh"/><circle cx="253.27" cy="383.13" r="1.0" class="gd"/><path d="M266.29 383.13H272.79M269.54 379.88V386.38M266.79 380.38L272.29 385.88M266.79 385.88L272.29 380.38"/><circle cx="269.54" cy="383.13" r="2.45" class="gh"/><circle cx="269.54" cy="383.13" r="1.0" class="gd"/><path d="M270.36 383.13H276.86M273.61 379.88V386.38M270.86 380.38L276.36 385.88M270.86 385.88L276.36 380.38"/><circle cx="273.61" cy="383.13" r="2.45" class="gh"/><circle cx="273.61" cy="383.13" r="1.0" class="gd"/><path d="M278.50 383.13H285.00M281.75 379.88V386.38M279.00 380.38L284.50 385.88M279.00 385.88L284.50 380.38"/><circle cx="281.75" cy="383.13" r="2.45" class="gh"/><circle cx="281.75" cy="383.13" r="1.0" class="gd"/><path d="M282.56 383.13H289.06M285.81 379.88V386.38M283.06 380.38L288.56 385.88M283.06 385.88L288.56 380.38"/><circle cx="285.81" cy="383.13" r="2.45" class="gh"/><circle cx="285.81" cy="383.13" r="1.0" class="gd"/><path d="M294.77 383.13H301.27M298.02 379.88V386.38M295.27 380.38L300.77 385.88M295.27 385.88L300.77 380.38"/><circle cx="298.02" cy="383.13" r="2.45" class="gh"/><circle cx="298.02" cy="383.13" r="1.0" class="gd"/><path d="M54.72 459.67H61.22M57.97 456.42V462.92M55.22 456.92L60.72 462.42M55.22 462.42L60.72 456.92"/><circle cx="57.97" cy="459.67" r="2.45" class="gh"/><circle cx="57.97" cy="459.67" r="1.0" class="gd"/><path d="M58.79 459.67H65.29M62.04 456.42V462.92M59.29 456.92L64.79 462.42M59.29 462.42L64.79 456.92"/><circle cx="62.04" cy="459.67" r="2.45" class="gh"/><circle cx="62.04" cy="459.67" r="1.0" class="gd"/><circle cx="66.93" cy="459.67" r="2.0" class="gh"/><path d="M63.68 459.67H70.18M66.93 456.42V462.92M64.18 456.92L69.68 462.42M64.18 462.42L69.68 456.92"/><circle cx="66.93" cy="459.67" r="1.0" class="gd"/><path d="M71.00 459.67H77.50M74.25 456.42V462.92M71.50 456.92L77.00 462.42M71.50 462.42L77.00 456.92"/><circle cx="74.25" cy="459.67" r="2.45" class="gh"/><circle cx="74.25" cy="459.67" r="1.0" class="gd"/><path d="M83.20 459.67H89.70M86.45 456.42V462.92M83.70 456.92L89.20 462.42M83.70 462.42L89.20 456.92"/><circle cx="86.45" cy="459.67" r="2.45" class="gh"/><circle cx="86.45" cy="459.67" r="1.0" class="gd"/><path d="M91.34 459.67H97.84M94.59 456.42V462.92M91.84 456.92L97.34 462.42M91.84 462.42L97.34 456.92"/><circle cx="94.59" cy="459.67" r="2.45" class="gh"/><circle cx="94.59" cy="459.67" r="1.0" class="gd"/><path d="M99.48 459.67H105.98M102.73 456.42V462.92M99.98 456.92L105.48 462.42M99.98 462.42L105.48 456.92"/><circle cx="102.73" cy="459.67" r="2.45" class="gh"/><circle cx="102.73" cy="459.67" r="1.0" class="gd"/><path d="M103.55 459.67H110.05M106.80 456.42V462.92M104.05 456.92L109.55 462.42M104.05 462.42L109.55 456.92"/><circle cx="106.80" cy="459.67" r="2.45" class="gh"/><circle cx="106.80" cy="459.67" r="1.0" class="gd"/><path d="M111.68 459.67H118.18M114.93 456.42V462.92M112.18 456.92L117.68 462.42M112.18 462.42L117.68 456.92"/><circle cx="114.93" cy="459.67" r="2.45" class="gh"/><circle cx="114.93" cy="459.67" r="1.0" class="gd"/><path d="M127.96 459.67H134.46M131.21 456.42V462.92M128.46 456.92L133.96 462.42M128.46 462.42L133.96 456.92"/><circle cx="131.21" cy="459.67" r="2.45" class="gh"/><circle cx="131.21" cy="459.67" r="1.0" class="gd"/><path d="M132.03 459.67H138.53M135.28 456.42V462.92M132.53 456.92L138.03 462.42M132.53 462.42L138.03 456.92"/><circle cx="135.28" cy="459.67" r="2.45" class="gh"/><circle cx="135.28" cy="459.67" r="1.0" class="gd"/><path d="M136.10 459.67H142.60M139.35 456.42V462.92M136.60 456.92L142.10 462.42M136.60 462.42L142.10 456.92"/><circle cx="139.35" cy="459.67" r="2.45" class="gh"/><circle cx="139.35" cy="459.67" r="1.0" class="gd"/><path d="M140.16 459.67H146.66M143.41 456.42V462.92M140.66 456.92L146.16 462.42M140.66 462.42L146.16 456.92"/><circle cx="143.41" cy="459.67" r="2.45" class="gh"/><circle cx="143.41" cy="459.67" r="1.0" class="gd"/><path d="M148.30 459.67H154.80M151.55 456.42V462.92M148.80 456.92L154.30 462.42M148.80 462.42L154.30 456.92"/><circle cx="151.55" cy="459.67" r="2.45" class="gh"/><circle cx="151.55" cy="459.67" r="1.0" class="gd"/><path d="M156.44 459.67H162.94M159.69 456.42V462.92M156.94 456.92L162.44 462.42M156.94 462.42L162.44 456.92"/><circle cx="159.69" cy="459.67" r="2.45" class="gh"/><circle cx="159.69" cy="459.67" r="1.0" class="gd"/><path d="M164.58 459.67H171.08M167.83 456.42V462.92M165.08 456.92L170.58 462.42M165.08 462.42L170.58 456.92"/><circle cx="167.83" cy="459.67" r="2.45" class="gh"/><circle cx="167.83" cy="459.67" r="1.0" class="gd"/><path d="M172.71 459.67H179.21M175.96 456.42V462.92M173.21 456.92L178.71 462.42M173.21 462.42L178.71 456.92"/><circle cx="175.96" cy="459.67" r="2.45" class="gh"/><circle cx="175.96" cy="459.67" r="1.0" class="gd"/><path d="M176.78 459.67H183.28M180.03 456.42V462.92M177.28 456.92L182.78 462.42M177.28 462.42L182.78 456.92"/><circle cx="180.03" cy="459.67" r="2.45" class="gh"/><circle cx="180.03" cy="459.67" r="1.0" class="gd"/><path d="M184.92 459.67H191.42M188.17 456.42V462.92M185.42 456.92L190.92 462.42M185.42 462.42L190.92 456.92"/><circle cx="188.17" cy="459.67" r="2.45" class="gh"/><circle cx="188.17" cy="459.67" r="1.0" class="gd"/><path d="M188.99 459.67H195.49M192.24 456.42V462.92M189.49 456.92L194.99 462.42M189.49 462.42L194.99 456.92"/><circle cx="192.24" cy="459.67" r="2.45" class="gh"/><circle cx="192.24" cy="459.67" r="1.0" class="gd"/><path d="M197.12 459.67H203.62M200.37 456.42V462.92M197.62 456.92L203.12 462.42M197.62 462.42L203.12 456.92"/><circle cx="200.37" cy="459.67" r="2.45" class="gh"/><circle cx="200.37" cy="459.67" r="1.0" class="gd"/><path d="M205.26 459.67H211.76M208.51 456.42V462.92M205.76 456.92L211.26 462.42M205.76 462.42L211.26 456.92"/><circle cx="208.51" cy="459.67" r="2.45" class="gh"/><circle cx="208.51" cy="459.67" r="1.0" class="gd"/><path d="M209.33 459.67H215.83M212.58 456.42V462.92M209.83 456.92L215.33 462.42M209.83 462.42L215.33 456.92"/><circle cx="212.58" cy="459.67" r="2.45" class="gh"/><circle cx="212.58" cy="459.67" r="1.0" class="gd"/><path d="M217.47 459.67H223.97M220.72 456.42V462.92M217.97 456.92L223.47 462.42M217.97 462.42L223.47 456.92"/><circle cx="220.72" cy="459.67" r="2.45" class="gh"/><circle cx="220.72" cy="459.67" r="1.0" class="gd"/><path d="M237.81 459.67H244.31M241.06 456.42V462.92M238.31 456.92L243.81 462.42M238.31 462.42L243.81 456.92"/><circle cx="241.06" cy="459.67" r="2.45" class="gh"/><circle cx="241.06" cy="459.67" r="1.0" class="gd"/><path d="M245.95 459.67H252.45M249.20 456.42V462.92M246.45 456.92L251.95 462.42M246.45 462.42L251.95 456.92"/><circle cx="249.20" cy="459.67" r="2.45" class="gh"/><circle cx="249.20" cy="459.67" r="1.0" class="gd"/><path d="M254.08 459.67H260.58M257.33 456.42V462.92M254.58 456.92L260.08 462.42M254.58 462.42L260.08 456.92"/><circle cx="257.33" cy="459.67" r="2.45" class="gh"/><circle cx="257.33" cy="459.67" r="1.0" class="gd"/><path d="M258.15 459.67H264.65M261.40 456.42V462.92M258.65 456.92L264.15 462.42M258.65 462.42L264.15 456.92"/><circle cx="261.40" cy="459.67" r="2.45" class="gh"/><circle cx="261.40" cy="459.67" r="1.0" class="gd"/><circle cx="266.29" cy="459.67" r="2.0" class="gh"/><path d="M263.04 459.67H269.54M266.29 456.42V462.92M263.54 456.92L269.04 462.42M263.54 462.42L269.04 456.92"/><circle cx="266.29" cy="459.67" r="1.0" class="gd"/><path d="M274.43 459.67H280.93M277.68 456.42V462.92M274.93 456.92L280.43 462.42M274.93 462.42L280.43 456.92"/><circle cx="277.68" cy="459.67" r="2.45" class="gh"/><circle cx="277.68" cy="459.67" r="1.0" class="gd"/><path d="M286.63 459.67H293.13M289.88 456.42V462.92M287.13 456.92L292.63 462.42M287.13 462.42L292.63 456.92"/><circle cx="289.88" cy="459.67" r="2.45" class="gh"/><circle cx="289.88" cy="459.67" r="1.0" class="gd"/><path d="M290.70 459.67H297.20M293.95 456.42V462.92M291.20 456.92L296.70 462.42M291.20 462.42L296.70 456.92"/><circle cx="293.95" cy="459.67" r="2.45" class="gh"/><circle cx="293.95" cy="459.67" r="1.0" class="gd"/></g>
</g>

<g>
<rect class="ax" x="396.4" y="306.2" width="284.50" height="229.00"/>
<path class="ax" d="M396.40 535.2v4.6M424.85 535.2v2.3M453.30 535.2v4.6M481.75 535.2v2.3M510.20 535.2v4.6M538.65 535.2v2.3M567.10 535.2v4.6M595.55 535.2v2.3M624.00 535.2v4.6M652.45 535.2v2.3M680.90 535.2v4.6M396.4 535.20h-4.6M396.4 516.12h-2.3M396.4 497.03h-4.6M396.4 477.95h-2.3M396.4 458.87h-4.6M396.4 439.78h-2.3M396.4 420.70h-4.6M396.4 401.62h-2.3M396.4 382.53h-4.6M396.4 363.45h-2.3M396.4 344.37h-4.6M396.4 325.28h-2.3M396.4 306.20h-4.6"/>
<g class="tk" text-anchor="middle"><text x="396.40" y="549.9">0</text><text x="453.30" y="549.9">5</text><text x="510.20" y="549.9">10</text><text x="567.10" y="549.9">15</text><text x="624.00" y="549.9">20</text><text x="680.90" y="549.9">25</text></g>
<g class="tk" text-anchor="end"><text x="388.8" y="537.90">0.0</text><text x="388.8" y="499.73">0.5</text><text x="388.8" y="461.57">1.0</text><text x="388.8" y="423.40">1.5</text><text x="388.8" y="385.23">2.0</text><text x="388.8" y="347.07">2.5</text><text x="388.8" y="308.90">3.0</text></g>
<text class="lb" text-anchor="middle" x="530.6" y="566.9">Testing set samples</text>
<text class="lb" text-anchor="middle" transform="translate(360.7 421.00) rotate(-90)">Category tags</text>
<text class="tt" text-anchor="middle" x="464.0" y="318.8">RF-GWO-SVM</text>
<text class="lb" text-anchor="middle" x="465.9" y="334.1">Accuracy: 90.48% (19/21)</text>
<text class="cp" text-anchor="middle" x="534.9" y="586.1">(<tspan font-weight="bold" stroke="#000" stroke-width="0.3">d</tspan>)</text>
<g class="o"><circle cx="540.20" cy="318.30" r="3.35"/></g><g class="g"><circle cx="540.20" cy="329.10" r="2.0" class="gh"/><path d="M536.95 329.10H543.45M540.20 325.85V332.35M537.45 326.35L542.95 331.85M537.45 331.85L542.95 326.35"/><circle cx="540.20" cy="329.10" r="1.0" class="gd"/></g>
<text class="lg" x="551.9" y="321.20">Classification of actual test sets</text>
<text class="lg" x="551.9" y="332.00">Classification of prediction test sets</text>
<g class="o"><circle cx="408.28" cy="382.63" r="3.35"/><circle cx="419.66" cy="382.63" r="3.35"/><circle cx="465.18" cy="382.63" r="3.35"/><circle cx="499.32" cy="382.63" r="3.35"/><circle cx="533.46" cy="382.63" r="3.35"/><circle cx="567.60" cy="382.63" r="3.35"/><circle cx="590.36" cy="382.63" r="3.35"/><circle cx="431.04" cy="458.92" r="3.35"/><circle cx="442.42" cy="458.92" r="3.35"/><circle cx="453.80" cy="458.92" r="3.35"/><circle cx="476.56" cy="458.92" r="3.35"/><circle cx="487.94" cy="458.92" r="3.35"/><circle cx="510.70" cy="458.92" r="3.35"/><circle cx="522.08" cy="458.92" r="3.35"/><circle cx="544.84" cy="458.92" r="3.35"/><circle cx="556.22" cy="458.92" r="3.35"/><circle cx="578.98" cy="458.92" r="3.35"/><circle cx="601.74" cy="458.92" r="3.35"/><circle cx="613.12" cy="458.92" r="3.35"/><circle cx="624.50" cy="458.92" r="3.35"/><circle cx="635.88" cy="458.92" r="3.35"/></g>
<g class="g"><path d="M405.03 382.63H411.53M408.28 379.38V385.88M405.53 379.88L411.03 385.38M405.53 385.38L411.03 379.88"/><circle cx="408.28" cy="382.63" r="2.45" class="gh"/><circle cx="408.28" cy="382.63" r="1.0" class="gd"/><path d="M416.41 382.63H422.91M419.66 379.38V385.88M416.91 379.88L422.41 385.38M416.91 385.38L422.41 379.88"/><circle cx="419.66" cy="382.63" r="2.45" class="gh"/><circle cx="419.66" cy="382.63" r="1.0" class="gd"/><path d="M461.93 382.63H468.43M465.18 379.38V385.88M462.43 379.88L467.93 385.38M462.43 385.38L467.93 379.88"/><circle cx="465.18" cy="382.63" r="2.45" class="gh"/><circle cx="465.18" cy="382.63" r="1.0" class="gd"/><circle cx="476.56" cy="382.63" r="2.0" class="gh"/><path d="M473.31 382.63H479.81M476.56 379.38V385.88M473.81 379.88L479.31 385.38M473.81 385.38L479.31 379.88"/><circle cx="476.56" cy="382.63" r="1.0" class="gd"/><circle cx="487.94" cy="382.63" r="2.0" class="gh"/><path d="M484.69 382.63H491.19M487.94 379.38V385.88M485.19 379.88L490.69 385.38M485.19 385.38L490.69 379.88"/><circle cx="487.94" cy="382.63" r="1.0" class="gd"/><path d="M496.07 382.63H502.57M499.32 379.38V385.88M496.57 379.88L502.07 385.38M496.57 385.38L502.07 379.88"/><circle cx="499.32" cy="382.63" r="2.45" class="gh"/><circle cx="499.32" cy="382.63" r="1.0" class="gd"/><path d="M530.21 382.63H536.71M533.46 379.38V385.88M530.71 379.88L536.21 385.38M530.71 385.38L536.21 379.88"/><circle cx="533.46" cy="382.63" r="2.45" class="gh"/><circle cx="533.46" cy="382.63" r="1.0" class="gd"/><path d="M564.35 382.63H570.85M567.60 379.38V385.88M564.85 379.88L570.35 385.38M564.85 385.38L570.35 379.88"/><circle cx="567.60" cy="382.63" r="2.45" class="gh"/><circle cx="567.60" cy="382.63" r="1.0" class="gd"/><path d="M587.11 382.63H593.61M590.36 379.38V385.88M587.61 379.88L593.11 385.38M587.61 385.38L593.11 379.88"/><circle cx="590.36" cy="382.63" r="2.45" class="gh"/><circle cx="590.36" cy="382.63" r="1.0" class="gd"/><path d="M427.79 458.92H434.29M431.04 455.67V462.17M428.29 456.17L433.79 461.67M428.29 461.67L433.79 456.17"/><circle cx="431.04" cy="458.92" r="2.45" class="gh"/><circle cx="431.04" cy="458.92" r="1.0" class="gd"/><path d="M439.17 458.92H445.67M442.42 455.67V462.17M439.67 456.17L445.17 461.67M439.67 461.67L445.17 456.17"/><circle cx="442.42" cy="458.92" r="2.45" class="gh"/><circle cx="442.42" cy="458.92" r="1.0" class="gd"/><path d="M450.55 458.92H457.05M453.80 455.67V462.17M451.05 456.17L456.55 461.67M451.05 461.67L456.55 456.17"/><circle cx="453.80" cy="458.92" r="2.45" class="gh"/><circle cx="453.80" cy="458.92" r="1.0" class="gd"/><path d="M507.45 458.92H513.95M510.70 455.67V462.17M507.95 456.17L513.45 461.67M507.95 461.67L513.45 456.17"/><circle cx="510.70" cy="458.92" r="2.45" class="gh"/><circle cx="510.70" cy="458.92" r="1.0" class="gd"/><path d="M518.83 458.92H525.33M522.08 455.67V462.17M519.33 456.17L524.83 461.67M519.33 461.67L524.83 456.17"/><circle cx="522.08" cy="458.92" r="2.45" class="gh"/><circle cx="522.08" cy="458.92" r="1.0" class="gd"/><path d="M541.59 458.92H548.09M544.84 455.67V462.17M542.09 456.17L547.59 461.67M542.09 461.67L547.59 456.17"/><circle cx="544.84" cy="458.92" r="2.45" class="gh"/><circle cx="544.84" cy="458.92" r="1.0" class="gd"/><path d="M552.97 458.92H559.47M556.22 455.67V462.17M553.47 456.17L558.97 461.67M553.47 461.67L558.97 456.17"/><circle cx="556.22" cy="458.92" r="2.45" class="gh"/><circle cx="556.22" cy="458.92" r="1.0" class="gd"/><path d="M575.73 458.92H582.23M578.98 455.67V462.17M576.23 456.17L581.73 461.67M576.23 461.67L581.73 456.17"/><circle cx="578.98" cy="458.92" r="2.45" class="gh"/><circle cx="578.98" cy="458.92" r="1.0" class="gd"/><path d="M598.49 458.92H604.99M601.74 455.67V462.17M598.99 456.17L604.49 461.67M598.99 461.67L604.49 456.17"/><circle cx="601.74" cy="458.92" r="2.45" class="gh"/><circle cx="601.74" cy="458.92" r="1.0" class="gd"/><path d="M609.87 458.92H616.37M613.12 455.67V462.17M610.37 456.17L615.87 461.67M610.37 461.67L615.87 456.17"/><circle cx="613.12" cy="458.92" r="2.45" class="gh"/><circle cx="613.12" cy="458.92" r="1.0" class="gd"/><path d="M621.25 458.92H627.75M624.50 455.67V462.17M621.75 456.17L627.25 461.67M621.75 461.67L627.25 456.17"/><circle cx="624.50" cy="458.92" r="2.45" class="gh"/><circle cx="624.50" cy="458.92" r="1.0" class="gd"/><path d="M632.63 458.92H639.13M635.88 455.67V462.17M633.13 456.17L638.63 461.67M633.13 461.67L638.63 456.17"/><circle cx="635.88" cy="458.92" r="2.45" class="gh"/><circle cx="635.88" cy="458.92" r="1.0" class="gd"/></g>
</g>

<g>
<rect class="ax" x="41.7" y="609.7" width="284.80" height="228.80"/>
<path class="ax" d="M41.70 838.5v4.6M62.04 838.5v2.3M82.39 838.5v4.6M102.73 838.5v2.3M123.07 838.5v4.6M143.41 838.5v2.3M163.76 838.5v4.6M184.10 838.5v2.3M204.44 838.5v4.6M224.79 838.5v2.3M245.13 838.5v4.6M265.47 838.5v2.3M285.81 838.5v4.6M306.16 838.5v2.3M326.50 838.5v4.6M41.7 838.50h-4.6M41.7 819.43h-2.3M41.7 800.37h-4.6M41.7 781.30h-2.3M41.7 762.23h-4.6M41.7 743.17h-2.3M41.7 724.10h-4.6M41.7 705.03h-2.3M41.7 685.97h-4.6M41.7 666.90h-2.3M41.7 647.83h-4.6M41.7 628.77h-2.3M41.7 609.70h-4.6"/>
<g class="tk" text-anchor="middle"><text x="41.70" y="854.4">0</text><text x="82.39" y="854.4">10</text><text x="123.07" y="854.4">20</text><text x="163.76" y="854.4">30</text><text x="204.44" y="854.4">40</text><text x="245.13" y="854.4">50</text><text x="285.81" y="854.4">60</text><text x="326.50" y="854.4">70</text></g>
<g class="tk" text-anchor="end"><text x="34.0" y="841.60">0.0</text><text x="34.0" y="803.47">0.5</text><text x="34.0" y="765.33">1.0</text><text x="34.0" y="727.20">1.5</text><text x="34.0" y="689.07">2.0</text><text x="34.0" y="650.93">2.5</text><text x="34.0" y="612.80">3.0</text></g>
<text class="lb" text-anchor="middle" x="184.1" y="870.0">Training set samples</text>
<text class="lb" text-anchor="middle" transform="translate(10.1 724.40) rotate(-90)">Category tags</text>
<text class="tt" text-anchor="middle" x="104.7" y="622.8">RF-IGWO-SVM</text>
<text class="lb" text-anchor="middle" x="105.6" y="637.7">Accuracy: 100% (63/63)</text>
<text class="cp" text-anchor="middle" x="178.3" y="892.7">(<tspan font-weight="bold" stroke="#000" stroke-width="0.3">e</tspan>)</text>
<g class="o"><circle cx="185.20" cy="622.00" r="3.35"/></g><g class="g"><circle cx="185.20" cy="632.50" r="2.0" class="gh"/><path d="M181.95 632.50H188.45M185.20 629.25V635.75M182.45 629.75L187.95 635.25M182.45 635.25L187.95 629.75"/><circle cx="185.20" cy="632.50" r="1.0" class="gd"/></g>
<text class="lg" x="197.4" y="624.90">Classification of actual test sets</text>
<text class="lg" x="197.4" y="635.40">Classification of prediction test sets</text>
<g class="o"><circle cx="45.77" cy="685.87" r="3.35"/><circle cx="49.84" cy="685.87" r="3.35"/><circle cx="53.91" cy="685.87" r="3.35"/><circle cx="66.11" cy="685.87" r="3.35"/><circle cx="70.18" cy="685.87" r="3.35"/><circle cx="78.32" cy="685.87" r="3.35"/><circle cx="82.39" cy="685.87" r="3.35"/><circle cx="90.52" cy="685.87" r="3.35"/><circle cx="98.66" cy="685.87" r="3.35"/><circle cx="110.87" cy="685.87" r="3.35"/><circle cx="119.00" cy="685.87" r="3.35"/><circle cx="123.07" cy="685.87" r="3.35"/><circle cx="127.14" cy="685.87" r="3.35"/><circle cx="147.48" cy="685.87" r="3.35"/><circle cx="155.62" cy="685.87" r="3.35"/><circle cx="163.76" cy="685.87" r="3.35"/><circle cx="171.89" cy="685.87" r="3.35"/><circle cx="184.10" cy="685.87" r="3.35"/><circle cx="196.31" cy="685.87" r="3.35"/><circle cx="204.44" cy="685.87" r="3.35"/><circle cx="216.65" cy="685.87" r="3.35"/><circle cx="224.79" cy="685.87" r="3.35"/><circle cx="228.85" cy="685.87" r="3.35"/><circle cx="232.92" cy="685.87" r="3.35"/><circle cx="236.99" cy="685.87" r="3.35"/><circle cx="245.13" cy="685.87" r="3.35"/><circle cx="253.27" cy="685.87" r="3.35"/><circle cx="265.47" cy="685.87" r="3.35"/><circle cx="269.54" cy="685.87" r="3.35"/><circle cx="273.61" cy="685.87" r="3.35"/><circle cx="281.75" cy="685.87" r="3.35"/><circle cx="285.81" cy="685.87" r="3.35"/><circle cx="298.02" cy="685.87" r="3.35"/><circle cx="57.97" cy="761.98" r="3.35"/><circle cx="62.04" cy="761.98" r="3.35"/><circle cx="74.25" cy="761.98" r="3.35"/><circle cx="86.45" cy="761.98" r="3.35"/><circle cx="94.59" cy="761.98" r="3.35"/><circle cx="102.73" cy="761.98" r="3.35"/><circle cx="106.80" cy="761.98" r="3.35"/><circle cx="114.93" cy="761.98" r="3.35"/><circle cx="131.21" cy="761.98" r="3.35"/><circle cx="135.28" cy="761.98" r="3.35"/><circle cx="139.35" cy="761.98" r="3.35"/><circle cx="143.41" cy="761.98" r="3.35"/><circle cx="151.55" cy="761.98" r="3.35"/><circle cx="159.69" cy="761.98" r="3.35"/><circle cx="167.83" cy="761.98" r="3.35"/><circle cx="175.96" cy="761.98" r="3.35"/><circle cx="180.03" cy="761.98" r="3.35"/><circle cx="188.17" cy="761.98" r="3.35"/><circle cx="192.24" cy="761.98" r="3.35"/><circle cx="200.37" cy="761.98" r="3.35"/><circle cx="208.51" cy="761.98" r="3.35"/><circle cx="212.58" cy="761.98" r="3.35"/><circle cx="220.72" cy="761.98" r="3.35"/><circle cx="241.06" cy="761.98" r="3.35"/><circle cx="249.20" cy="761.98" r="3.35"/><circle cx="257.33" cy="761.98" r="3.35"/><circle cx="261.40" cy="761.98" r="3.35"/><circle cx="277.68" cy="761.98" r="3.35"/><circle cx="289.88" cy="761.98" r="3.35"/><circle cx="293.95" cy="761.98" r="3.35"/></g>
<g class="g"><path d="M42.52 685.87H49.02M45.77 682.62V689.12M43.02 683.12L48.52 688.62M43.02 688.62L48.52 683.12"/><circle cx="45.77" cy="685.87" r="2.45" class="gh"/><circle cx="45.77" cy="685.87" r="1.0" class="gd"/><path d="M46.59 685.87H53.09M49.84 682.62V689.12M47.09 683.12L52.59 688.62M47.09 688.62L52.59 683.12"/><circle cx="49.84" cy="685.87" r="2.45" class="gh"/><circle cx="49.84" cy="685.87" r="1.0" class="gd"/><path d="M50.66 685.87H57.16M53.91 682.62V689.12M51.16 683.12L56.66 688.62M51.16 688.62L56.66 683.12"/><circle cx="53.91" cy="685.87" r="2.45" class="gh"/><circle cx="53.91" cy="685.87" r="1.0" class="gd"/><path d="M62.86 685.87H69.36M66.11 682.62V689.12M63.36 683.12L68.86 688.62M63.36 688.62L68.86 683.12"/><circle cx="66.11" cy="685.87" r="2.45" class="gh"/><circle cx="66.11" cy="685.87" r="1.0" class="gd"/><path d="M66.93 685.87H73.43M70.18 682.62V689.12M67.43 683.12L72.93 688.62M67.43 688.62L72.93 683.12"/><circle cx="70.18" cy="685.87" r="2.45" class="gh"/><circle cx="70.18" cy="685.87" r="1.0" class="gd"/><path d="M75.07 685.87H81.57M78.32 682.62V689.12M75.57 683.12L81.07 688.62M75.57 688.62L81.07 683.12"/><circle cx="78.32" cy="685.87" r="2.45" class="gh"/><circle cx="78.32" cy="685.87" r="1.0" class="gd"/><path d="M79.14 685.87H85.64M82.39 682.62V689.12M79.64 683.12L85.14 688.62M79.64 688.62L85.14 683.12"/><circle cx="82.39" cy="685.87" r="2.45" class="gh"/><circle cx="82.39" cy="685.87" r="1.0" class="gd"/><path d="M87.27 685.87H93.77M90.52 682.62V689.12M87.77 683.12L93.27 688.62M87.77 688.62L93.27 683.12"/><circle cx="90.52" cy="685.87" r="2.45" class="gh"/><circle cx="90.52" cy="685.87" r="1.0" class="gd"/><path d="M95.41 685.87H101.91M98.66 682.62V689.12M95.91 683.12L101.41 688.62M95.91 688.62L101.41 683.12"/><circle cx="98.66" cy="685.87" r="2.45" class="gh"/><circle cx="98.66" cy="685.87" r="1.0" class="gd"/><path d="M107.62 685.87H114.12M110.87 682.62V689.12M108.12 683.12L113.62 688.62M108.12 688.62L113.62 683.12"/><circle cx="110.87" cy="685.87" r="2.45" class="gh"/><circle cx="110.87" cy="685.87" r="1.0" class="gd"/><path d="M115.75 685.87H122.25M119.00 682.62V689.12M116.25 683.12L121.75 688.62M116.25 688.62L121.75 683.12"/><circle cx="119.00" cy="685.87" r="2.45" class="gh"/><circle cx="119.00" cy="685.87" r="1.0" class="gd"/><path d="M119.82 685.87H126.32M123.07 682.62V689.12M120.32 683.12L125.82 688.62M120.32 688.62L125.82 683.12"/><circle cx="123.07" cy="685.87" r="2.45" class="gh"/><circle cx="123.07" cy="685.87" r="1.0" class="gd"/><path d="M123.89 685.87H130.39M127.14 682.62V689.12M124.39 683.12L129.89 688.62M124.39 688.62L129.89 683.12"/><circle cx="127.14" cy="685.87" r="2.45" class="gh"/><circle cx="127.14" cy="685.87" r="1.0" class="gd"/><path d="M144.23 685.87H150.73M147.48 682.62V689.12M144.73 683.12L150.23 688.62M144.73 688.62L150.23 683.12"/><circle cx="147.48" cy="685.87" r="2.45" class="gh"/><circle cx="147.48" cy="685.87" r="1.0" class="gd"/><path d="M152.37 685.87H158.87M155.62 682.62V689.12M152.87 683.12L158.37 688.62M152.87 688.62L158.37 683.12"/><circle cx="155.62" cy="685.87" r="2.45" class="gh"/><circle cx="155.62" cy="685.87" r="1.0" class="gd"/><path d="M160.51 685.87H167.01M163.76 682.62V689.12M161.01 683.12L166.51 688.62M161.01 688.62L166.51 683.12"/><circle cx="163.76" cy="685.87" r="2.45" class="gh"/><circle cx="163.76" cy="685.87" r="1.0" class="gd"/><path d="M168.64 685.87H175.14M171.89 682.62V689.12M169.14 683.12L174.64 688.62M169.14 688.62L174.64 683.12"/><circle cx="171.89" cy="685.87" r="2.45" class="gh"/><circle cx="171.89" cy="685.87" r="1.0" class="gd"/><path d="M180.85 685.87H187.35M184.10 682.62V689.12M181.35 683.12L186.85 688.62M181.35 688.62L186.85 683.12"/><circle cx="184.10" cy="685.87" r="2.45" class="gh"/><circle cx="184.10" cy="685.87" r="1.0" class="gd"/><path d="M193.06 685.87H199.56M196.31 682.62V689.12M193.56 683.12L199.06 688.62M193.56 688.62L199.06 683.12"/><circle cx="196.31" cy="685.87" r="2.45" class="gh"/><circle cx="196.31" cy="685.87" r="1.0" class="gd"/><path d="M201.19 685.87H207.69M204.44 682.62V689.12M201.69 683.12L207.19 688.62M201.69 688.62L207.19 683.12"/><circle cx="204.44" cy="685.87" r="2.45" class="gh"/><circle cx="204.44" cy="685.87" r="1.0" class="gd"/><path d="M213.40 685.87H219.90M216.65 682.62V689.12M213.90 683.12L219.40 688.62M213.90 688.62L219.40 683.12"/><circle cx="216.65" cy="685.87" r="2.45" class="gh"/><circle cx="216.65" cy="685.87" r="1.0" class="gd"/><path d="M221.54 685.87H228.04M224.79 682.62V689.12M222.04 683.12L227.54 688.62M222.04 688.62L227.54 683.12"/><circle cx="224.79" cy="685.87" r="2.45" class="gh"/><circle cx="224.79" cy="685.87" r="1.0" class="gd"/><path d="M225.60 685.87H232.10M228.85 682.62V689.12M226.10 683.12L231.60 688.62M226.10 688.62L231.60 683.12"/><circle cx="228.85" cy="685.87" r="2.45" class="gh"/><circle cx="228.85" cy="685.87" r="1.0" class="gd"/><path d="M229.67 685.87H236.17M232.92 682.62V689.12M230.17 683.12L235.67 688.62M230.17 688.62L235.67 683.12"/><circle cx="232.92" cy="685.87" r="2.45" class="gh"/><circle cx="232.92" cy="685.87" r="1.0" class="gd"/><path d="M233.74 685.87H240.24M236.99 682.62V689.12M234.24 683.12L239.74 688.62M234.24 688.62L239.74 683.12"/><circle cx="236.99" cy="685.87" r="2.45" class="gh"/><circle cx="236.99" cy="685.87" r="1.0" class="gd"/><path d="M241.88 685.87H248.38M245.13 682.62V689.12M242.38 683.12L247.88 688.62M242.38 688.62L247.88 683.12"/><circle cx="245.13" cy="685.87" r="2.45" class="gh"/><circle cx="245.13" cy="685.87" r="1.0" class="gd"/><path d="M250.02 685.87H256.52M253.27 682.62V689.12M250.52 683.12L256.02 688.62M250.52 688.62L256.02 683.12"/><circle cx="253.27" cy="685.87" r="2.45" class="gh"/><circle cx="253.27" cy="685.87" r="1.0" class="gd"/><path d="M262.22 685.87H268.72M265.47 682.62V689.12M262.72 683.12L268.22 688.62M262.72 688.62L268.22 683.12"/><circle cx="265.47" cy="685.87" r="2.45" class="gh"/><circle cx="265.47" cy="685.87" r="1.0" class="gd"/><path d="M266.29 685.87H272.79M269.54 682.62V689.12M266.79 683.12L272.29 688.62M266.79 688.62L272.29 683.12"/><circle cx="269.54" cy="685.87" r="2.45" class="gh"/><circle cx="269.54" cy="685.87" r="1.0" class="gd"/><path d="M270.36 685.87H276.86M273.61 682.62V689.12M270.86 683.12L276.36 688.62M270.86 688.62L276.36 683.12"/><circle cx="273.61" cy="685.87" r="2.45" class="gh"/><circle cx="273.61" cy="685.87" r="1.0" class="gd"/><path d="M278.50 685.87H285.00M281.75 682.62V689.12M279.00 683.12L284.50 688.62M279.00 688.62L284.50 683.12"/><circle cx="281.75" cy="685.87" r="2.45" class="gh"/><circle cx="281.75" cy="685.87" r="1.0" class="gd"/><path d="M282.56 685.87H289.06M285.81 682.62V689.12M283.06 683.12L288.56 688.62M283.06 688.62L288.56 683.12"/><circle cx="285.81" cy="685.87" r="2.45" class="gh"/><circle cx="285.81" cy="685.87" r="1.0" class="gd"/><path d="M294.77 685.87H301.27M298.02 682.62V689.12M295.27 683.12L300.77 688.62M295.27 688.62L300.77 683.12"/><circle cx="298.02" cy="685.87" r="2.45" class="gh"/><circle cx="298.02" cy="685.87" r="1.0" class="gd"/><path d="M54.72 761.98H61.22M57.97 758.73V765.23M55.22 759.23L60.72 764.73M55.22 764.73L60.72 759.23"/><circle cx="57.97" cy="761.98" r="2.45" class="gh"/><circle cx="57.97" cy="761.98" r="1.0" class="gd"/><path d="M58.79 761.98H65.29M62.04 758.73V765.23M59.29 759.23L64.79 764.73M59.29 764.73L64.79 759.23"/><circle cx="62.04" cy="761.98" r="2.45" class="gh"/><circle cx="62.04" cy="761.98" r="1.0" class="gd"/><path d="M71.00 761.98H77.50M74.25 758.73V765.23M71.50 759.23L77.00 764.73M71.50 764.73L77.00 759.23"/><circle cx="74.25" cy="761.98" r="2.45" class="gh"/><circle cx="74.25" cy="761.98" r="1.0" class="gd"/><path d="M83.20 761.98H89.70M86.45 758.73V765.23M83.70 759.23L89.20 764.73M83.70 764.73L89.20 759.23"/><circle cx="86.45" cy="761.98" r="2.45" class="gh"/><circle cx="86.45" cy="761.98" r="1.0" class="gd"/><path d="M91.34 761.98H97.84M94.59 758.73V765.23M91.84 759.23L97.34 764.73M91.84 764.73L97.34 759.23"/><circle cx="94.59" cy="761.98" r="2.45" class="gh"/><circle cx="94.59" cy="761.98" r="1.0" class="gd"/><path d="M99.48 761.98H105.98M102.73 758.73V765.23M99.98 759.23L105.48 764.73M99.98 764.73L105.48 759.23"/><circle cx="102.73" cy="761.98" r="2.45" class="gh"/><circle cx="102.73" cy="761.98" r="1.0" class="gd"/><path d="M103.55 761.98H110.05M106.80 758.73V765.23M104.05 759.23L109.55 764.73M104.05 764.73L109.55 759.23"/><circle cx="106.80" cy="761.98" r="2.45" class="gh"/><circle cx="106.80" cy="761.98" r="1.0" class="gd"/><path d="M111.68 761.98H118.18M114.93 758.73V765.23M112.18 759.23L117.68 764.73M112.18 764.73L117.68 759.23"/><circle cx="114.93" cy="761.98" r="2.45" class="gh"/><circle cx="114.93" cy="761.98" r="1.0" class="gd"/><path d="M127.96 761.98H134.46M131.21 758.73V765.23M128.46 759.23L133.96 764.73M128.46 764.73L133.96 759.23"/><circle cx="131.21" cy="761.98" r="2.45" class="gh"/><circle cx="131.21" cy="761.98" r="1.0" class="gd"/><path d="M132.03 761.98H138.53M135.28 758.73V765.23M132.53 759.23L138.03 764.73M132.53 764.73L138.03 759.23"/><circle cx="135.28" cy="761.98" r="2.45" class="gh"/><circle cx="135.28" cy="761.98" r="1.0" class="gd"/><path d="M136.10 761.98H142.60M139.35 758.73V765.23M136.60 759.23L142.10 764.73M136.60 764.73L142.10 759.23"/><circle cx="139.35" cy="761.98" r="2.45" class="gh"/><circle cx="139.35" cy="761.98" r="1.0" class="gd"/><path d="M140.16 761.98H146.66M143.41 758.73V765.23M140.66 759.23L146.16 764.73M140.66 764.73L146.16 759.23"/><circle cx="143.41" cy="761.98" r="2.45" class="gh"/><circle cx="143.41" cy="761.98" r="1.0" class="gd"/><path d="M148.30 761.98H154.80M151.55 758.73V765.23M148.80 759.23L154.30 764.73M148.80 764.73L154.30 759.23"/><circle cx="151.55" cy="761.98" r="2.45" class="gh"/><circle cx="151.55" cy="761.98" r="1.0" class="gd"/><path d="M156.44 761.98H162.94M159.69 758.73V765.23M156.94 759.23L162.44 764.73M156.94 764.73L162.44 759.23"/><circle cx="159.69" cy="761.98" r="2.45" class="gh"/><circle cx="159.69" cy="761.98" r="1.0" class="gd"/><path d="M164.58 761.98H171.08M167.83 758.73V765.23M165.08 759.23L170.58 764.73M165.08 764.73L170.58 759.23"/><circle cx="167.83" cy="761.98" r="2.45" class="gh"/><circle cx="167.83" cy="761.98" r="1.0" class="gd"/><path d="M172.71 761.98H179.21M175.96 758.73V765.23M173.21 759.23L178.71 764.73M173.21 764.73L178.71 759.23"/><circle cx="175.96" cy="761.98" r="2.45" class="gh"/><circle cx="175.96" cy="761.98" r="1.0" class="gd"/><path d="M176.78 761.98H183.28M180.03 758.73V765.23M177.28 759.23L182.78 764.73M177.28 764.73L182.78 759.23"/><circle cx="180.03" cy="761.98" r="2.45" class="gh"/><circle cx="180.03" cy="761.98" r="1.0" class="gd"/><path d="M184.92 761.98H191.42M188.17 758.73V765.23M185.42 759.23L190.92 764.73M185.42 764.73L190.92 759.23"/><circle cx="188.17" cy="761.98" r="2.45" class="gh"/><circle cx="188.17" cy="761.98" r="1.0" class="gd"/><path d="M188.99 761.98H195.49M192.24 758.73V765.23M189.49 759.23L194.99 764.73M189.49 764.73L194.99 759.23"/><circle cx="192.24" cy="761.98" r="2.45" class="gh"/><circle cx="192.24" cy="761.98" r="1.0" class="gd"/><path d="M197.12 761.98H203.62M200.37 758.73V765.23M197.62 759.23L203.12 764.73M197.62 764.73L203.12 759.23"/><circle cx="200.37" cy="761.98" r="2.45" class="gh"/><circle cx="200.37" cy="761.98" r="1.0" class="gd"/><path d="M205.26 761.98H211.76M208.51 758.73V765.23M205.76 759.23L211.26 764.73M205.76 764.73L211.26 759.23"/><circle cx="208.51" cy="761.98" r="2.45" class="gh"/><circle cx="208.51" cy="761.98" r="1.0" class="gd"/><path d="M209.33 761.98H215.83M212.58 758.73V765.23M209.83 759.23L215.33 764.73M209.83 764.73L215.33 759.23"/><circle cx="212.58" cy="761.98" r="2.45" class="gh"/><circle cx="212.58" cy="761.98" r="1.0" class="gd"/><path d="M217.47 761.98H223.97M220.72 758.73V765.23M217.97 759.23L223.47 764.73M217.97 764.73L223.47 759.23"/><circle cx="220.72" cy="761.98" r="2.45" class="gh"/><circle cx="220.72" cy="761.98" r="1.0" class="gd"/><path d="M237.81 761.98H244.31M241.06 758.73V765.23M238.31 759.23L243.81 764.73M238.31 764.73L243.81 759.23"/><circle cx="241.06" cy="761.98" r="2.45" class="gh"/><circle cx="241.06" cy="761.98" r="1.0" class="gd"/><path d="M245.95 761.98H252.45M249.20 758.73V765.23M246.45 759.23L251.95 764.73M246.45 764.73L251.95 759.23"/><circle cx="249.20" cy="761.98" r="2.45" class="gh"/><circle cx="249.20" cy="761.98" r="1.0" class="gd"/><path d="M254.08 761.98H260.58M257.33 758.73V765.23M254.58 759.23L260.08 764.73M254.58 764.73L260.08 759.23"/><circle cx="257.33" cy="761.98" r="2.45" class="gh"/><circle cx="257.33" cy="761.98" r="1.0" class="gd"/><path d="M258.15 761.98H264.65M261.40 758.73V765.23M258.65 759.23L264.15 764.73M258.65 764.73L264.15 759.23"/><circle cx="261.40" cy="761.98" r="2.45" class="gh"/><circle cx="261.40" cy="761.98" r="1.0" class="gd"/><path d="M274.43 761.98H280.93M277.68 758.73V765.23M274.93 759.23L280.43 764.73M274.93 764.73L280.43 759.23"/><circle cx="277.68" cy="761.98" r="2.45" class="gh"/><circle cx="277.68" cy="761.98" r="1.0" class="gd"/><path d="M286.63 761.98H293.13M289.88 758.73V765.23M287.13 759.23L292.63 764.73M287.13 764.73L292.63 759.23"/><circle cx="289.88" cy="761.98" r="2.45" class="gh"/><circle cx="289.88" cy="761.98" r="1.0" class="gd"/><path d="M290.70 761.98H297.20M293.95 758.73V765.23M291.20 759.23L296.70 764.73M291.20 764.73L296.70 759.23"/><circle cx="293.95" cy="761.98" r="2.45" class="gh"/><circle cx="293.95" cy="761.98" r="1.0" class="gd"/></g>
</g>

<g>
<rect class="ax" x="396.4" y="609.7" width="284.50" height="228.80"/>
<path class="ax" d="M396.40 838.5v4.6M424.85 838.5v2.3M453.30 838.5v4.6M481.75 838.5v2.3M510.20 838.5v4.6M538.65 838.5v2.3M567.10 838.5v4.6M595.55 838.5v2.3M624.00 838.5v4.6M652.45 838.5v2.3M680.90 838.5v4.6M396.4 838.50h-4.6M396.4 819.43h-2.3M396.4 800.37h-4.6M396.4 781.30h-2.3M396.4 762.23h-4.6M396.4 743.17h-2.3M396.4 724.10h-4.6M396.4 705.03h-2.3M396.4 685.97h-4.6M396.4 666.90h-2.3M396.4 647.83h-4.6M396.4 628.77h-2.3M396.4 609.70h-4.6"/>
<g class="tk" text-anchor="middle"><text x="396.40" y="854.4">0</text><text x="453.30" y="854.4">5</text><text x="510.20" y="854.4">10</text><text x="567.10" y="854.4">15</text><text x="624.00" y="854.4">20</text><text x="680.90" y="854.4">25</text></g>
<g class="tk" text-anchor="end"><text x="388.4" y="841.60">0.0</text><text x="388.4" y="803.47">0.5</text><text x="388.4" y="765.33">1.0</text><text x="388.4" y="727.20">1.5</text><text x="388.4" y="689.07">2.0</text><text x="388.4" y="650.93">2.5</text><text x="388.4" y="612.80">3.0</text></g>
<text class="lb" text-anchor="middle" x="532.2" y="872.1">Testing set samples</text>
<text class="lb" text-anchor="middle" transform="translate(364.5 724.40) rotate(-90)">Category tags</text>
<text class="tt" text-anchor="middle" x="463.0" y="623.4">RF-IGWO-SVM</text>
<text class="lb" text-anchor="middle" x="464.75" y="638.7">Accuracy: 100% (21/21)</text>
<text class="cp" text-anchor="middle" x="535.8" y="890.6">(<tspan font-weight="bold" stroke="#000" stroke-width="0.3">f</tspan>)</text>
<g class="o"><circle cx="541.40" cy="622.70" r="3.35"/></g><g class="g"><circle cx="541.40" cy="633.70" r="2.0" class="gh"/><path d="M538.15 633.70H544.65M541.40 630.45V636.95M538.65 630.95L544.15 636.45M538.65 636.45L544.15 630.95"/><circle cx="541.40" cy="633.70" r="1.0" class="gd"/></g>
<text class="lg" x="554.2" y="625.60">Classification of actual test sets</text>
<text class="lg" x="554.2" y="636.60">Classification of prediction test sets</text>
<g class="o"><circle cx="408.28" cy="686.07" r="3.35"/><circle cx="419.66" cy="686.07" r="3.35"/><circle cx="465.18" cy="686.07" r="3.35"/><circle cx="499.32" cy="686.07" r="3.35"/><circle cx="533.46" cy="686.07" r="3.35"/><circle cx="567.60" cy="686.07" r="3.35"/><circle cx="590.36" cy="686.07" r="3.35"/><circle cx="431.04" cy="762.93" r="3.35"/><circle cx="442.42" cy="762.93" r="3.35"/><circle cx="453.80" cy="762.93" r="3.35"/><circle cx="476.56" cy="762.93" r="3.35"/><circle cx="487.94" cy="762.93" r="3.35"/><circle cx="510.70" cy="762.93" r="3.35"/><circle cx="522.08" cy="762.93" r="3.35"/><circle cx="544.84" cy="762.93" r="3.35"/><circle cx="556.22" cy="762.93" r="3.35"/><circle cx="578.98" cy="762.93" r="3.35"/><circle cx="601.74" cy="762.93" r="3.35"/><circle cx="613.12" cy="762.93" r="3.35"/><circle cx="624.50" cy="762.93" r="3.35"/><circle cx="635.88" cy="762.93" r="3.35"/></g>
<g class="g"><path d="M405.03 686.07H411.53M408.28 682.82V689.32M405.53 683.32L411.03 688.82M405.53 688.82L411.03 683.32"/><circle cx="408.28" cy="686.07" r="2.45" class="gh"/><circle cx="408.28" cy="686.07" r="1.0" class="gd"/><path d="M416.41 686.07H422.91M419.66 682.82V689.32M416.91 683.32L422.41 688.82M416.91 688.82L422.41 683.32"/><circle cx="419.66" cy="686.07" r="2.45" class="gh"/><circle cx="419.66" cy="686.07" r="1.0" class="gd"/><path d="M461.93 686.07H468.43M465.18 682.82V689.32M462.43 683.32L467.93 688.82M462.43 688.82L467.93 683.32"/><circle cx="465.18" cy="686.07" r="2.45" class="gh"/><circle cx="465.18" cy="686.07" r="1.0" class="gd"/><path d="M496.07 686.07H502.57M499.32 682.82V689.32M496.57 683.32L502.07 688.82M496.57 688.82L502.07 683.32"/><circle cx="499.32" cy="686.07" r="2.45" class="gh"/><circle cx="499.32" cy="686.07" r="1.0" class="gd"/><path d="M530.21 686.07H536.71M533.46 682.82V689.32M530.71 683.32L536.21 688.82M530.71 688.82L536.21 683.32"/><circle cx="533.46" cy="686.07" r="2.45" class="gh"/><circle cx="533.46" cy="686.07" r="1.0" class="gd"/><path d="M564.35 686.07H570.85M567.60 682.82V689.32M564.85 683.32L570.35 688.82M564.85 688.82L570.35 683.32"/><circle cx="567.60" cy="686.07" r="2.45" class="gh"/><circle cx="567.60" cy="686.07" r="1.0" class="gd"/><path d="M587.11 686.07H593.61M590.36 682.82V689.32M587.61 683.32L593.11 688.82M587.61 688.82L593.11 683.32"/><circle cx="590.36" cy="686.07" r="2.45" class="gh"/><circle cx="590.36" cy="686.07" r="1.0" class="gd"/><path d="M427.79 762.93H434.29M431.04 759.68V766.18M428.29 760.18L433.79 765.68M428.29 765.68L433.79 760.18"/><circle cx="431.04" cy="762.93" r="2.45" class="gh"/><circle cx="431.04" cy="762.93" r="1.0" class="gd"/><path d="M439.17 762.93H445.67M442.42 759.68V766.18M439.67 760.18L445.17 765.68M439.67 765.68L445.17 760.18"/><circle cx="442.42" cy="762.93" r="2.45" class="gh"/><circle cx="442.42" cy="762.93" r="1.0" class="gd"/><path d="M450.55 762.93H457.05M453.80 759.68V766.18M451.05 760.18L456.55 765.68M451.05 765.68L456.55 760.18"/><circle cx="453.80" cy="762.93" r="2.45" class="gh"/><circle cx="453.80" cy="762.93" r="1.0" class="gd"/><path d="M473.31 762.93H479.81M476.56 759.68V766.18M473.81 760.18L479.31 765.68M473.81 765.68L479.31 760.18"/><circle cx="476.56" cy="762.93" r="2.45" class="gh"/><circle cx="476.56" cy="762.93" r="1.0" class="gd"/><path d="M484.69 762.93H491.19M487.94 759.68V766.18M485.19 760.18L490.69 765.68M485.19 765.68L490.69 760.18"/><circle cx="487.94" cy="762.93" r="2.45" class="gh"/><circle cx="487.94" cy="762.93" r="1.0" class="gd"/><path d="M507.45 762.93H513.95M510.70 759.68V766.18M507.95 760.18L513.45 765.68M507.95 765.68L513.45 760.18"/><circle cx="510.70" cy="762.93" r="2.45" class="gh"/><circle cx="510.70" cy="762.93" r="1.0" class="gd"/><path d="M518.83 762.93H525.33M522.08 759.68V766.18M519.33 760.18L524.83 765.68M519.33 765.68L524.83 760.18"/><circle cx="522.08" cy="762.93" r="2.45" class="gh"/><circle cx="522.08" cy="762.93" r="1.0" class="gd"/><path d="M541.59 762.93H548.09M544.84 759.68V766.18M542.09 760.18L547.59 765.68M542.09 765.68L547.59 760.18"/><circle cx="544.84" cy="762.93" r="2.45" class="gh"/><circle cx="544.84" cy="762.93" r="1.0" class="gd"/><path d="M552.97 762.93H559.47M556.22 759.68V766.18M553.47 760.18L558.97 765.68M553.47 765.68L558.97 760.18"/><circle cx="556.22" cy="762.93" r="2.45" class="gh"/><circle cx="556.22" cy="762.93" r="1.0" class="gd"/><path d="M575.73 762.93H582.23M578.98 759.68V766.18M576.23 760.18L581.73 765.68M576.23 765.68L581.73 760.18"/><circle cx="578.98" cy="762.93" r="2.45" class="gh"/><circle cx="578.98" cy="762.93" r="1.0" class="gd"/><path d="M598.49 762.93H604.99M601.74 759.68V766.18M598.99 760.18L604.49 765.68M598.99 765.68L604.49 760.18"/><circle cx="601.74" cy="762.93" r="2.45" class="gh"/><circle cx="601.74" cy="762.93" r="1.0" class="gd"/><path d="M609.87 762.93H616.37M613.12 759.68V766.18M610.37 760.18L615.87 765.68M610.37 765.68L615.87 760.18"/><circle cx="613.12" cy="762.93" r="2.45" class="gh"/><circle cx="613.12" cy="762.93" r="1.0" class="gd"/><path d="M621.25 762.93H627.75M624.50 759.68V766.18M621.75 760.18L627.25 765.68M621.75 765.68L627.25 760.18"/><circle cx="624.50" cy="762.93" r="2.45" class="gh"/><circle cx="624.50" cy="762.93" r="1.0" class="gd"/><path d="M632.63 762.93H639.13M635.88 759.68V766.18M633.13 760.18L638.63 765.68M633.13 765.68L638.63 760.18"/><circle cx="635.88" cy="762.93" r="2.45" class="gh"/><circle cx="635.88" cy="762.93" r="1.0" class="gd"/></g>
</g>

</svg>
</body></html>
